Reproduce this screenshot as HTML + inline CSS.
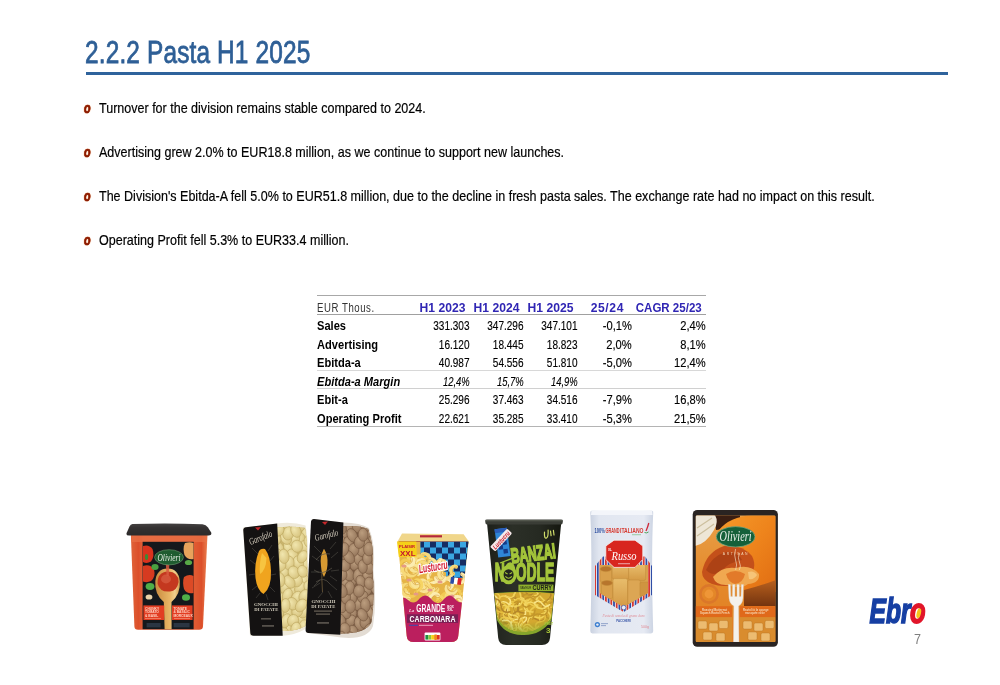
<!DOCTYPE html>
<html><head><meta charset="utf-8">
<style>
html,body{margin:0;padding:0;background:#fff;}
body{width:1000px;height:685px;position:relative;overflow:hidden;font-family:"Liberation Sans",sans-serif;color:#000;}
.abs{position:absolute;white-space:nowrap;}
#title{left:84.5px;top:34.8px;font-size:31px;line-height:36px;color:#2e5f96;transform-origin:0 0;transform:scaleX(0.787);letter-spacing:0.2px;-webkit-text-stroke:0.8px #2e5f96;}
#rule{left:86px;top:72px;width:862px;height:3px;background:#2f639c;}
.b{left:84px;font-size:15px;line-height:18px;}
.b i{font-family:"Liberation Sans",sans-serif;font-weight:bold;font-style:italic;color:#8a1a04;font-size:14.5px;line-height:18px;text-shadow:0 0 1.2px #f08a3a,0 0 1.2px #f08a3a;position:absolute;left:0;top:0;transform-origin:0 0;transform:scaleX(0.74);-webkit-text-stroke:0.7px #8a1a04}
.b span{position:absolute;left:15px;top:0;transform-origin:0 0;transform:scaleX(0.835);-webkit-text-stroke:0.2px #000;}
#tbl{left:317px;top:295px;width:389px;height:133px;font-size:12px;}
#tbl .ln{position:absolute;left:0;width:389px;height:1px;background:#b0b0b0;}
#tbl .r{position:absolute;left:0;width:389px;height:18px;line-height:18px;}
#tbl .r span{position:absolute;top:0;white-space:nowrap;transform:scaleX(0.797);font-size:12.6px;-webkit-text-stroke:0.15px #000;}
#tbl .r .l{left:0;transform-origin:0 0;font-weight:bold;transform:scaleX(0.881);-webkit-text-stroke:0;}
#tbl .n{transform-origin:100% 0;text-align:right;}
#tbl .c1{right:236.5px}#tbl .c2{right:182.5px}#tbl .c3{right:128.5px}#tbl .c4{right:74.5px}#tbl .c5{right:0px}
#tbl .r span.c4,#tbl .r span.c5{transform:scaleX(0.885);}
#tbl .it span.n{transform:scaleX(0.75);}
#tbl .h span.n{color:#3026b4;font-weight:bold;transform:scaleX(1.01);font-size:12px;-webkit-text-stroke:0;}
#tbl .it span{font-style:italic;}

</style></head><body>
<div id="title" class="abs">2.2.2 Pasta H1 2025</div>
<div id="rule" class="abs"></div>
<div class="abs b" style="top:99px"><i>o</i><span>Turnover for the division remains stable compared to 2024.</span></div>
<div class="abs b" style="top:143px"><i>o</i><span>Advertising grew 2.0% to EUR18.8 million, as we continue to support new launches.</span></div>
<div class="abs b" style="top:187px"><i>o</i><span>The Division's Ebitda-A fell 5.0% to EUR51.8 million, due to the decline in fresh pasta sales. The exchange rate had no impact on this result.</span></div>
<div class="abs b" style="top:231px"><i>o</i><span>Operating Profit fell 5.3% to EUR33.4 million.</span></div>
<div id="tbl" class="abs">
<div class="ln" style="top:0;background:#a8a8a8"></div>
<div class="ln" style="top:19px;background:#a0a0a0"></div>
<div class="ln" style="top:75px;background:#d8d8d8"></div>
<div class="ln" style="top:93px;background:#d0d0d0"></div>
<div class="ln" style="top:131px;background:#b4b4b4"></div>
<div class="r h" style="top:3.5px"><span class="l" style="color:#333;font-weight:normal;font-size:12px;-webkit-text-stroke:0;letter-spacing:0.7px;transform:scaleX(0.8)">EUR Thous.</span><span class="n c1" style="right:241px">H1 2023</span><span class="n c2" style="right:187px">H1 2024</span><span class="n c3" style="right:133px">H1 2025</span><span class="n c4" style="right:82px;letter-spacing:0.6px">25/24</span><span class="n c5" style="right:4.5px;transform:scaleX(0.96)">CAGR 25/23</span></div>
<div class="r" style="top:22px"><span class="l">Sales</span><span class="n c1">331.303</span><span class="n c2">347.296</span><span class="n c3">347.101</span><span class="n c4">-0,1%</span><span class="n c5">2,4%</span></div>
<div class="r" style="top:40.5px"><span class="l">Advertising</span><span class="n c1">16.120</span><span class="n c2">18.445</span><span class="n c3">18.823</span><span class="n c4">2,0%</span><span class="n c5">8,1%</span></div>
<div class="r" style="top:59px"><span class="l">Ebitda-a</span><span class="n c1">40.987</span><span class="n c2">54.556</span><span class="n c3">51.810</span><span class="n c4">-5,0%</span><span class="n c5">12,4%</span></div>
<div class="r it" style="top:77.5px"><span class="l">Ebitda-a Margin</span><span class="n c1">12,4%</span><span class="n c2">15,7%</span><span class="n c3">14,9%</span></div>
<div class="r" style="top:96px"><span class="l">Ebit-a</span><span class="n c1">25.296</span><span class="n c2">37.463</span><span class="n c3">34.516</span><span class="n c4">-7,9%</span><span class="n c5">16,8%</span></div>
<div class="r" style="top:114.5px"><span class="l">Operating Profit</span><span class="n c1">22.621</span><span class="n c2">35.285</span><span class="n c3">33.410</span><span class="n c4">-5,3%</span><span class="n c5">21,5%</span></div>
</div>
<div id="pn" class="abs" style="left:914px;top:630.5px;font-size:14px;line-height:16px;color:#7f7f7f;transform-origin:0 0;transform:scaleX(0.9)">7</div>
<svg id="logo" class="abs" style="left:860px;top:590px" width="80" height="40" viewBox="860 590 80 40">
<g font-family="'Liberation Sans',sans-serif" font-weight="bold" font-style="italic" font-size="35">
<text x="869.5" y="622.8" fill="#163fa3" stroke="#163fa3" stroke-width="1.6" textLength="41" lengthAdjust="spacingAndGlyphs">Ebr</text>
<text x="910" y="622.8" fill="#e1162a" stroke="#e1162a" stroke-width="1.8" textLength="15.5" lengthAdjust="spacingAndGlyphs">o</text>
</g>
<ellipse cx="918.6" cy="613" rx="2.1" ry="5" fill="#f6c51b" transform="rotate(14 917.6 614)"/>
</svg>
<svg id="prod" class="abs" style="left:0;top:490px;filter:blur(0.45px)" width="1000" height="195" viewBox="0 490 1000 195">
<defs>
<linearGradient id="tubg" x1="0" x2="1"><stop offset="0" stop-color="#e0653a"/><stop offset="0.1" stop-color="#dc4f2a"/><stop offset="0.16" stop-color="#e2603a"/><stop offset="0.84" stop-color="#e05a32"/><stop offset="0.92" stop-color="#dc4f2a"/><stop offset="1" stop-color="#ea8050"/></linearGradient>
<linearGradient id="wood" x1="0" x2="1"><stop offset="0" stop-color="#c98a3e"/><stop offset="0.6" stop-color="#e9b666"/><stop offset="0.8" stop-color="#f1d08e"/><stop offset="1" stop-color="#d39a4a"/></linearGradient>
<linearGradient id="lidg" x1="0" y1="0" x2="0" y2="1"><stop offset="0" stop-color="#454242"/><stop offset="0.35" stop-color="#343131"/><stop offset="1" stop-color="#2c2a2a"/></linearGradient>
</defs>
<g id="p1">
<path d="M130.8 533 L207.6 533 L203 626.5 Q202.8 629.8 199 629.8 L138 629.8 Q134.6 629.8 134.4 626.5 Z" fill="url(#tubg)"/>
<path d="M131.2 535 h76 l-0.4 7 h-75.1z" fill="#e87045" opacity=".75"/>
<path d="M132.5 524 Q168 523 202.5 524.2 Q206 524.6 208 527.5 L211.2 532.6 Q212 535.6 208.5 535.6 L129 535.6 Q125.8 535.6 126.6 533 L129.5 526.5 Q130.5 524.3 132.5 524Z" fill="url(#lidg)"/>
<rect x="142.6" y="541.8" width="51" height="87.4" fill="#15181c"/>
<path d="M143 546 Q149 544 152.5 549 Q155 556 151 561.5 Q147 564 143 562Z" fill="#d9331e"/>
<path d="M143 566 Q150 563.5 154 569.5 Q156 577 151 581 Q147 583 143 581.5Z" fill="#d63a20"/>
<path d="M185 543 Q190 541.5 193.5 543 L193.5 559 Q188 560.5 184.5 555 Q182.5 548 185 543Z" fill="#e8a35c"/>
<path d="M184 577 Q189 573.5 193.5 576 L193.5 593 Q187 594.5 184 589 Q182.3 582 184 577Z" fill="#dc4a26"/>
<ellipse cx="155" cy="567" rx="3.6" ry="3" fill="#4aa040"/><ellipse cx="150" cy="586.5" rx="4.4" ry="3.4" fill="#4fae48"/><ellipse cx="186" cy="597.5" rx="4" ry="3.2" fill="#4fae48"/><ellipse cx="188.5" cy="562.5" rx="3.6" ry="2.6" fill="#58a846"/><ellipse cx="146.5" cy="557" rx="1.6" ry="3" fill="#3d8a36"/>
<ellipse cx="149" cy="597" rx="3.4" ry="2.6" fill="#e9d2a8"/>
<path d="M163.8 602 Q154.2 594 155.3 581 Q156.8 568.5 167.5 568.5 Q178.5 568.5 179.8 581 Q180.8 594 171.5 602 L171.6 629.2 L164.6 629.2Z" fill="url(#wood)"/>
<path d="M157.6 584 Q157 572 168 571.5 Q178.6 572 178.6 582 Q177 591 170 591.5 Q160 592.5 157.6 584Z" fill="#c4381f"/>
<ellipse cx="166" cy="579" rx="5" ry="4.4" fill="#d65a3e" opacity=".8"/>
<path d="M165.5 560 L169.5 560 L168.8 576 L166.6 576Z" fill="#d85a40" opacity=".85"/>
<ellipse cx="169" cy="557.3" rx="14.4" ry="7.6" fill="#1f5c30" stroke="#6d9a6e" stroke-width=".6"/>
<text x="169" y="560.6" font-family="'Liberation Serif',serif" font-style="italic" font-size="10.5" fill="#e6efe4" text-anchor="middle" textLength="23" lengthAdjust="spacingAndGlyphs">Olivieri</text>
<rect x="143.4" y="605.4" width="20.8" height="14.6" fill="#e23d22"/><rect x="172" y="605.4" width="20.6" height="14.6" fill="#e23d22"/>
<g font-family="'Liberation Sans',sans-serif" font-weight="bold" font-size="3.3" fill="#ffd2c2"><text x="145" y="609.6">CHUNKY</text><text x="145" y="613.2">TOMATO</text><text x="145" y="616.8">&amp; BASIL</text><text x="173.4" y="609.6">TOMATE</text><text x="173.4" y="613.2">&amp; BASILIC</text><text x="173.4" y="616.8">MORCEAUX</text></g>
<rect x="145" y="618.2" width="16" height=".8" fill="#f08a70"/><rect x="174" y="618.2" width="16" height=".8" fill="#f08a70"/>
<rect x="146.6" y="623" width="14" height="4.4" fill="#2b3542"/><rect x="173.6" y="623" width="16" height="4.4" fill="#2b3542"/>
</g>

<defs>
<clipPath id="g1c"><path d="M276.5 527.5 Q292 526 305 528 Q307.5 540 307 560 Q308.5 600 305.5 626 Q296 631.5 282 630.8 Z"/></clipPath>
<clipPath id="g2c"><path d="M343 526.5 Q358 524.5 368 529 Q374.5 545 372.5 570 Q375 600 371.5 622 Q366 634 340 633.5 Z"/></clipPath>
<radialGradient id="gn1" cx=".4" cy=".35" r=".7"><stop offset="0" stop-color="#f1e6ae"/><stop offset="1" stop-color="#d6c27c"/></radialGradient>
<radialGradient id="gn2" cx=".4" cy=".35" r=".7"><stop offset="0" stop-color="#bb9d7e"/><stop offset="1" stop-color="#94755a"/></radialGradient>
</defs>
<g id="p2">
<path d="M243 527.5 L277 523.5 Q293 521.5 305.5 525.5 Q308.5 540 308 560 Q309.5 600 305.5 629 Q295 635 283 635.8 L250 635.8 Z" fill="#efeadb"/>
<g clip-path="url(#g1c)"><rect x="270" y="520" width="45" height="120" fill="#c9b46c"/>
<ellipse cx="292.7" cy="588.7" rx="5.6" ry="6.5" fill="url(#gn1)" stroke="#bfa962" stroke-width=".6" transform="rotate(-20 292.7 588.7)"/>
<ellipse cx="279.0" cy="548.3" rx="4.8" ry="6.3" fill="url(#gn1)" stroke="#bfa962" stroke-width=".6" transform="rotate(-21 279.0 548.3)"/>
<ellipse cx="283.1" cy="572.7" rx="5.2" ry="7.3" fill="url(#gn1)" stroke="#bfa962" stroke-width=".6" transform="rotate(24 283.1 572.7)"/>
<ellipse cx="276.5" cy="555.7" rx="5.1" ry="6.9" fill="url(#gn1)" stroke="#bfa962" stroke-width=".6" transform="rotate(21 276.5 555.7)"/>
<ellipse cx="278.7" cy="597.1" rx="4.7" ry="6.9" fill="url(#gn1)" stroke="#bfa962" stroke-width=".6" transform="rotate(29 278.7 597.1)"/>
<ellipse cx="276.4" cy="590.0" rx="5.4" ry="7.1" fill="url(#gn1)" stroke="#bfa962" stroke-width=".6" transform="rotate(-2 276.4 590.0)"/>
<ellipse cx="293.1" cy="523.5" rx="4.8" ry="7.1" fill="url(#gn1)" stroke="#bfa962" stroke-width=".6" transform="rotate(-12 293.1 523.5)"/>
<ellipse cx="311.2" cy="621.1" rx="5.4" ry="7.4" fill="url(#gn1)" stroke="#bfa962" stroke-width=".6" transform="rotate(-7 311.2 621.1)"/>
<ellipse cx="308.6" cy="523.7" rx="5.0" ry="7.3" fill="url(#gn1)" stroke="#bfa962" stroke-width=".6" transform="rotate(16 308.6 523.7)"/>
<ellipse cx="309.2" cy="556.3" rx="4.8" ry="6.2" fill="url(#gn1)" stroke="#bfa962" stroke-width=".6" transform="rotate(-24 309.2 556.3)"/>
<ellipse cx="275.5" cy="522.6" rx="5.5" ry="7.1" fill="url(#gn1)" stroke="#bfa962" stroke-width=".6" transform="rotate(-25 275.5 522.6)"/>
<ellipse cx="275.1" cy="634.6" rx="5.4" ry="7.4" fill="url(#gn1)" stroke="#bfa962" stroke-width=".6" transform="rotate(11 275.1 634.6)"/>
<ellipse cx="288.9" cy="547.5" rx="5.0" ry="6.8" fill="url(#gn1)" stroke="#bfa962" stroke-width=".6" transform="rotate(-26 288.9 547.5)"/>
<ellipse cx="305.9" cy="533.8" rx="4.6" ry="7.4" fill="url(#gn1)" stroke="#bfa962" stroke-width=".6" transform="rotate(10 305.9 533.8)"/>
<ellipse cx="300.2" cy="524.0" rx="5.1" ry="7.3" fill="url(#gn1)" stroke="#bfa962" stroke-width=".6" transform="rotate(-5 300.2 524.0)"/>
<ellipse cx="275.0" cy="572.0" rx="5.5" ry="7.2" fill="url(#gn1)" stroke="#bfa962" stroke-width=".6" transform="rotate(-20 275.0 572.0)"/>
<ellipse cx="300.4" cy="538.5" rx="4.9" ry="6.4" fill="url(#gn1)" stroke="#bfa962" stroke-width=".6" transform="rotate(-18 300.4 538.5)"/>
<ellipse cx="311.4" cy="602.6" rx="5.2" ry="6.4" fill="url(#gn1)" stroke="#bfa962" stroke-width=".6" transform="rotate(-6 311.4 602.6)"/>
<ellipse cx="287.7" cy="611.9" rx="4.7" ry="7.3" fill="url(#gn1)" stroke="#bfa962" stroke-width=".6" transform="rotate(-10 287.7 611.9)"/>
<ellipse cx="285.5" cy="587.1" rx="5.1" ry="6.8" fill="url(#gn1)" stroke="#bfa962" stroke-width=".6" transform="rotate(28 285.5 587.1)"/>
<ellipse cx="305.3" cy="565.0" rx="5.0" ry="7.3" fill="url(#gn1)" stroke="#bfa962" stroke-width=".6" transform="rotate(0 305.3 565.0)"/>
<ellipse cx="292.9" cy="555.2" rx="5.1" ry="6.7" fill="url(#gn1)" stroke="#bfa962" stroke-width=".6" transform="rotate(-34 292.9 555.2)"/>
<ellipse cx="276.1" cy="605.5" rx="5.0" ry="6.3" fill="url(#gn1)" stroke="#bfa962" stroke-width=".6" transform="rotate(-35 276.1 605.5)"/>
<ellipse cx="291.5" cy="634.6" rx="5.4" ry="6.2" fill="url(#gn1)" stroke="#bfa962" stroke-width=".6" transform="rotate(-2 291.5 634.6)"/>
<ellipse cx="298.4" cy="562.5" rx="5.3" ry="6.8" fill="url(#gn1)" stroke="#bfa962" stroke-width=".6" transform="rotate(-12 298.4 562.5)"/>
<ellipse cx="304.2" cy="546.8" rx="5.1" ry="6.8" fill="url(#gn1)" stroke="#bfa962" stroke-width=".6" transform="rotate(20 304.2 546.8)"/>
<ellipse cx="288.2" cy="627.6" rx="4.7" ry="6.8" fill="url(#gn1)" stroke="#bfa962" stroke-width=".6" transform="rotate(-18 288.2 627.6)"/>
<ellipse cx="289.2" cy="563.2" rx="4.9" ry="7.1" fill="url(#gn1)" stroke="#bfa962" stroke-width=".6" transform="rotate(1 289.2 563.2)"/>
<ellipse cx="294.1" cy="539.2" rx="5.2" ry="7.1" fill="url(#gn1)" stroke="#bfa962" stroke-width=".6" transform="rotate(29 294.1 539.2)"/>
<ellipse cx="304.2" cy="580.8" rx="5.0" ry="6.9" fill="url(#gn1)" stroke="#bfa962" stroke-width=".6" transform="rotate(0 304.2 580.8)"/>
<ellipse cx="302.0" cy="618.2" rx="5.1" ry="7.0" fill="url(#gn1)" stroke="#bfa962" stroke-width=".6" transform="rotate(-3 302.0 618.2)"/>
<ellipse cx="300.1" cy="587.8" rx="5.1" ry="6.7" fill="url(#gn1)" stroke="#bfa962" stroke-width=".6" transform="rotate(31 300.1 587.8)"/>
<ellipse cx="308.6" cy="637.5" rx="5.3" ry="7.2" fill="url(#gn1)" stroke="#bfa962" stroke-width=".6" transform="rotate(31 308.6 637.5)"/>
<ellipse cx="304.0" cy="611.7" rx="4.9" ry="6.8" fill="url(#gn1)" stroke="#bfa962" stroke-width=".6" transform="rotate(31 304.0 611.7)"/>
<ellipse cx="281.1" cy="629.2" rx="5.4" ry="6.2" fill="url(#gn1)" stroke="#bfa962" stroke-width=".6" transform="rotate(-26 281.1 629.2)"/>
<ellipse cx="309.0" cy="586.5" rx="5.0" ry="6.1" fill="url(#gn1)" stroke="#bfa962" stroke-width=".6" transform="rotate(-18 309.0 586.5)"/>
<ellipse cx="287.4" cy="595.0" rx="4.7" ry="6.9" fill="url(#gn1)" stroke="#bfa962" stroke-width=".6" transform="rotate(20 287.4 595.0)"/>
<ellipse cx="296.9" cy="580.7" rx="5.5" ry="6.2" fill="url(#gn1)" stroke="#bfa962" stroke-width=".6" transform="rotate(15 296.9 580.7)"/>
<ellipse cx="297.3" cy="611.1" rx="5.3" ry="6.2" fill="url(#gn1)" stroke="#bfa962" stroke-width=".6" transform="rotate(27 297.3 611.1)"/>
<ellipse cx="280.1" cy="565.5" rx="5.6" ry="6.3" fill="url(#gn1)" stroke="#bfa962" stroke-width=".6" transform="rotate(32 280.1 565.5)"/>
<ellipse cx="296.7" cy="597.5" rx="5.0" ry="6.7" fill="url(#gn1)" stroke="#bfa962" stroke-width=".6" transform="rotate(34 296.7 597.5)"/>
<ellipse cx="309.4" cy="541.3" rx="5.4" ry="6.2" fill="url(#gn1)" stroke="#bfa962" stroke-width=".6" transform="rotate(-5 309.4 541.3)"/>
<ellipse cx="285.0" cy="522.3" rx="5.1" ry="6.5" fill="url(#gn1)" stroke="#bfa962" stroke-width=".6" transform="rotate(-21 285.0 522.3)"/>
<ellipse cx="289.5" cy="581.8" rx="4.9" ry="7.0" fill="url(#gn1)" stroke="#bfa962" stroke-width=".6" transform="rotate(-34 289.5 581.8)"/>
<ellipse cx="285.9" cy="538.2" rx="5.2" ry="6.6" fill="url(#gn1)" stroke="#bfa962" stroke-width=".6" transform="rotate(-34 285.9 538.2)"/>
<ellipse cx="284.0" cy="634.2" rx="4.9" ry="6.9" fill="url(#gn1)" stroke="#bfa962" stroke-width=".6" transform="rotate(1 284.0 634.2)"/>
<ellipse cx="285.9" cy="620.8" rx="4.7" ry="7.4" fill="url(#gn1)" stroke="#bfa962" stroke-width=".6" transform="rotate(20 285.9 620.8)"/>
<ellipse cx="297.1" cy="546.3" rx="5.6" ry="6.1" fill="url(#gn1)" stroke="#bfa962" stroke-width=".6" transform="rotate(-16 297.1 546.3)"/>
<ellipse cx="279.0" cy="610.9" rx="4.6" ry="7.1" fill="url(#gn1)" stroke="#bfa962" stroke-width=".6" transform="rotate(-16 279.0 610.9)"/>
<ellipse cx="302.4" cy="556.8" rx="4.7" ry="6.6" fill="url(#gn1)" stroke="#bfa962" stroke-width=".6" transform="rotate(29 302.4 556.8)"/>
<ellipse cx="292.3" cy="603.7" rx="5.4" ry="6.4" fill="url(#gn1)" stroke="#bfa962" stroke-width=".6" transform="rotate(-25 292.3 603.7)"/>
<ellipse cx="288.3" cy="533.3" rx="5.5" ry="6.8" fill="url(#gn1)" stroke="#bfa962" stroke-width=".6" transform="rotate(14 288.3 533.3)"/>
<ellipse cx="276.2" cy="539.6" rx="4.7" ry="6.1" fill="url(#gn1)" stroke="#bfa962" stroke-width=".6" transform="rotate(13 276.2 539.6)"/>
<ellipse cx="278.7" cy="530.4" rx="5.0" ry="6.1" fill="url(#gn1)" stroke="#bfa962" stroke-width=".6" transform="rotate(31 278.7 530.4)"/>
<ellipse cx="300.3" cy="635.5" rx="5.2" ry="7.1" fill="url(#gn1)" stroke="#bfa962" stroke-width=".6" transform="rotate(-29 300.3 635.5)"/>
<ellipse cx="293.0" cy="620.5" rx="5.5" ry="6.1" fill="url(#gn1)" stroke="#bfa962" stroke-width=".6" transform="rotate(25 293.0 620.5)"/>
<ellipse cx="304.2" cy="626.3" rx="5.1" ry="6.5" fill="url(#gn1)" stroke="#bfa962" stroke-width=".6" transform="rotate(4 304.2 626.3)"/>
<ellipse cx="293.8" cy="572.3" rx="5.5" ry="6.4" fill="url(#gn1)" stroke="#bfa962" stroke-width=".6" transform="rotate(-26 293.8 572.3)"/>
<ellipse cx="310.6" cy="572.4" rx="5.1" ry="6.3" fill="url(#gn1)" stroke="#bfa962" stroke-width=".6" transform="rotate(-27 310.6 572.4)"/>
<ellipse cx="275.6" cy="620.3" rx="4.8" ry="6.1" fill="url(#gn1)" stroke="#bfa962" stroke-width=".6" transform="rotate(-21 275.6 620.3)"/>
<ellipse cx="295.8" cy="628.5" rx="4.9" ry="6.4" fill="url(#gn1)" stroke="#bfa962" stroke-width=".6" transform="rotate(18 295.8 628.5)"/>
<ellipse cx="295.9" cy="530.9" rx="4.9" ry="6.7" fill="url(#gn1)" stroke="#bfa962" stroke-width=".6" transform="rotate(-23 295.9 530.9)"/>
<ellipse cx="302.6" cy="571.3" rx="4.9" ry="6.0" fill="url(#gn1)" stroke="#bfa962" stroke-width=".6" transform="rotate(-17 302.6 571.3)"/>
<ellipse cx="285.5" cy="605.5" rx="4.6" ry="7.0" fill="url(#gn1)" stroke="#bfa962" stroke-width=".6" transform="rotate(4 285.5 605.5)"/>
<ellipse cx="304.2" cy="595.8" rx="4.8" ry="6.7" fill="url(#gn1)" stroke="#bfa962" stroke-width=".6" transform="rotate(30 304.2 595.8)"/>
<ellipse cx="280.2" cy="579.8" rx="4.7" ry="7.1" fill="url(#gn1)" stroke="#bfa962" stroke-width=".6" transform="rotate(-5 280.2 579.8)"/>
<ellipse cx="283.9" cy="556.3" rx="5.1" ry="7.2" fill="url(#gn1)" stroke="#bfa962" stroke-width=".6" transform="rotate(-7 283.9 556.3)"/>
<ellipse cx="301.1" cy="605.5" rx="5.1" ry="7.0" fill="url(#gn1)" stroke="#bfa962" stroke-width=".6" transform="rotate(34 301.1 605.5)"/>
</g>
<path d="M246 527.2 Q243 527.6 243.3 530.5 L250.3 633 Q250.5 635.8 253.5 635.8 L282.7 635.8 L277.2 523.6 Z" fill="#141212"/>
<path d="M259 551 Q254 563 255.5 578 Q257 590 263.5 594 Q271.5 588 271 571 Q270.5 556 265 549 Q261 548 259 551Z" fill="#f0a41e"/>
<path d="M262 553 Q259 563 260 574 Q266 570 266.5 558 Z" fill="#f7c440"/>
<g stroke="#8a867c" stroke-width=".5" opacity=".55" fill="none"><path d="M250 560 l5 4 M249 575 l6 -1 M252 590 l5 -4 M274 556 l-4 5 M276 574 l-5 1 M275 592 l-5 -5 M256 598 l4 -5 M268 600 l-2 -6 M252 548 l6 6 M272 545 l-4 6"/></g>
<text transform="translate(250.5 545) rotate(-22)" font-family="'Liberation Serif',serif" font-style="italic" font-size="9.5" fill="#d8d0c0" textLength="24" lengthAdjust="spacingAndGlyphs">Garofalo</text>
<path d="M255 527.5 l3 3 l3 -3.6z" fill="#c4262a"/>
<g font-family="'Liberation Serif',serif" font-weight="bold" font-size="4.6" fill="#cfc9ba"><text x="254" y="605.5" textLength="24" lengthAdjust="spacingAndGlyphs">GNOCCHI</text><text x="254.3" y="610.8" textLength="24" lengthAdjust="spacingAndGlyphs">DI PATATE</text></g>
<rect x="261" y="618" width="10" height="1.6" fill="#55504a"/><rect x="262" y="625" width="12" height="1.8" fill="#55504a"/>
<path d="M312 519 L343.5 522.4 Q360 522.5 369 528 Q376 545 373.5 570 Q377 600 373 626 Q368 640 341 637.5 L306 632.8 Z" fill="#e3dcd3"/>
<g clip-path="url(#g2c)"><rect x="338" y="520" width="42" height="122" fill="#7d5f48"/>
<ellipse cx="369.8" cy="533.0" rx="4.9" ry="7.0" fill="url(#gn2)" stroke="#75573f" stroke-width=".6" transform="rotate(11 369.8 533.0)"/>
<ellipse cx="380.2" cy="566.5" rx="5.0" ry="6.3" fill="url(#gn2)" stroke="#75573f" stroke-width=".6" transform="rotate(-1 380.2 566.5)"/>
<ellipse cx="377.8" cy="549.6" rx="5.3" ry="6.2" fill="url(#gn2)" stroke="#75573f" stroke-width=".6" transform="rotate(10 377.8 549.6)"/>
<ellipse cx="352.7" cy="580.1" rx="4.7" ry="6.7" fill="url(#gn2)" stroke="#75573f" stroke-width=".6" transform="rotate(22 352.7 580.1)"/>
<ellipse cx="344.3" cy="532.7" rx="5.2" ry="6.6" fill="url(#gn2)" stroke="#75573f" stroke-width=".6" transform="rotate(-12 344.3 532.7)"/>
<ellipse cx="379.2" cy="582.5" rx="5.4" ry="6.6" fill="url(#gn2)" stroke="#75573f" stroke-width=".6" transform="rotate(3 379.2 582.5)"/>
<ellipse cx="352.2" cy="613.1" rx="4.8" ry="6.2" fill="url(#gn2)" stroke="#75573f" stroke-width=".6" transform="rotate(4 352.2 613.1)"/>
<ellipse cx="358.4" cy="604.3" rx="4.9" ry="6.5" fill="url(#gn2)" stroke="#75573f" stroke-width=".6" transform="rotate(22 358.4 604.3)"/>
<ellipse cx="355.0" cy="564.6" rx="4.8" ry="6.0" fill="url(#gn2)" stroke="#75573f" stroke-width=".6" transform="rotate(26 355.0 564.6)"/>
<ellipse cx="371.0" cy="613.2" rx="5.0" ry="7.0" fill="url(#gn2)" stroke="#75573f" stroke-width=".6" transform="rotate(-20 371.0 613.2)"/>
<ellipse cx="352.2" cy="597.1" rx="4.9" ry="7.1" fill="url(#gn2)" stroke="#75573f" stroke-width=".6" transform="rotate(-0 352.2 597.1)"/>
<ellipse cx="340.0" cy="541.8" rx="5.2" ry="6.5" fill="url(#gn2)" stroke="#75573f" stroke-width=".6" transform="rotate(13 340.0 541.8)"/>
<ellipse cx="357.2" cy="639.6" rx="5.1" ry="7.1" fill="url(#gn2)" stroke="#75573f" stroke-width=".6" transform="rotate(24 357.2 639.6)"/>
<ellipse cx="358.3" cy="558.1" rx="4.7" ry="7.3" fill="url(#gn2)" stroke="#75573f" stroke-width=".6" transform="rotate(-8 358.3 558.1)"/>
<ellipse cx="375.7" cy="605.2" rx="5.2" ry="6.6" fill="url(#gn2)" stroke="#75573f" stroke-width=".6" transform="rotate(-13 375.7 605.2)"/>
<ellipse cx="374.4" cy="541.4" rx="5.4" ry="7.4" fill="url(#gn2)" stroke="#75573f" stroke-width=".6" transform="rotate(-26 374.4 541.4)"/>
<ellipse cx="375.3" cy="575.6" rx="5.0" ry="7.1" fill="url(#gn2)" stroke="#75573f" stroke-width=".6" transform="rotate(21 375.3 575.6)"/>
<ellipse cx="350.1" cy="526.5" rx="5.6" ry="6.7" fill="url(#gn2)" stroke="#75573f" stroke-width=".6" transform="rotate(-30 350.1 526.5)"/>
<ellipse cx="357.7" cy="525.4" rx="5.5" ry="7.3" fill="url(#gn2)" stroke="#75573f" stroke-width=".6" transform="rotate(2 357.7 525.4)"/>
<ellipse cx="361.1" cy="630.3" rx="5.1" ry="6.6" fill="url(#gn2)" stroke="#75573f" stroke-width=".6" transform="rotate(20 361.1 630.3)"/>
<ellipse cx="350.7" cy="620.8" rx="4.8" ry="6.2" fill="url(#gn2)" stroke="#75573f" stroke-width=".6" transform="rotate(33 350.7 620.8)"/>
<ellipse cx="345.5" cy="582.8" rx="4.7" ry="7.2" fill="url(#gn2)" stroke="#75573f" stroke-width=".6" transform="rotate(14 345.5 582.8)"/>
<ellipse cx="348.4" cy="574.1" rx="5.4" ry="7.3" fill="url(#gn2)" stroke="#75573f" stroke-width=".6" transform="rotate(-29 348.4 574.1)"/>
<ellipse cx="367.4" cy="575.3" rx="5.4" ry="6.0" fill="url(#gn2)" stroke="#75573f" stroke-width=".6" transform="rotate(-26 367.4 575.3)"/>
<ellipse cx="341.7" cy="575.2" rx="5.2" ry="6.1" fill="url(#gn2)" stroke="#75573f" stroke-width=".6" transform="rotate(15 341.7 575.2)"/>
<ellipse cx="369.1" cy="567.3" rx="5.6" ry="6.9" fill="url(#gn2)" stroke="#75573f" stroke-width=".6" transform="rotate(2 369.1 567.3)"/>
<ellipse cx="345.2" cy="612.0" rx="5.0" ry="7.1" fill="url(#gn2)" stroke="#75573f" stroke-width=".6" transform="rotate(-28 345.2 612.0)"/>
<ellipse cx="365.7" cy="543.9" rx="4.9" ry="7.3" fill="url(#gn2)" stroke="#75573f" stroke-width=".6" transform="rotate(-22 365.7 543.9)"/>
<ellipse cx="379.0" cy="597.5" rx="4.9" ry="7.1" fill="url(#gn2)" stroke="#75573f" stroke-width=".6" transform="rotate(-35 379.0 597.5)"/>
<ellipse cx="348.8" cy="543.8" rx="5.1" ry="7.4" fill="url(#gn2)" stroke="#75573f" stroke-width=".6" transform="rotate(-15 348.8 543.8)"/>
<ellipse cx="359.4" cy="623.7" rx="4.9" ry="7.2" fill="url(#gn2)" stroke="#75573f" stroke-width=".6" transform="rotate(-18 359.4 623.7)"/>
<ellipse cx="373.5" cy="638.0" rx="5.1" ry="6.8" fill="url(#gn2)" stroke="#75573f" stroke-width=".6" transform="rotate(-33 373.5 638.0)"/>
<ellipse cx="339.6" cy="556.1" rx="5.0" ry="6.9" fill="url(#gn2)" stroke="#75573f" stroke-width=".6" transform="rotate(-31 339.6 556.1)"/>
<ellipse cx="358.0" cy="575.3" rx="4.8" ry="7.2" fill="url(#gn2)" stroke="#75573f" stroke-width=".6" transform="rotate(10 358.0 575.3)"/>
<ellipse cx="380.4" cy="628.5" rx="4.7" ry="6.3" fill="url(#gn2)" stroke="#75573f" stroke-width=".6" transform="rotate(-5 380.4 628.5)"/>
<ellipse cx="365.1" cy="621.8" rx="5.0" ry="6.7" fill="url(#gn2)" stroke="#75573f" stroke-width=".6" transform="rotate(14 365.1 621.8)"/>
<ellipse cx="352.6" cy="631.8" rx="5.3" ry="6.5" fill="url(#gn2)" stroke="#75573f" stroke-width=".6" transform="rotate(-7 352.6 631.8)"/>
<ellipse cx="378.4" cy="533.8" rx="4.6" ry="6.4" fill="url(#gn2)" stroke="#75573f" stroke-width=".6" transform="rotate(24 378.4 533.8)"/>
<ellipse cx="340.9" cy="620.5" rx="4.7" ry="6.7" fill="url(#gn2)" stroke="#75573f" stroke-width=".6" transform="rotate(-21 340.9 620.5)"/>
<ellipse cx="344.8" cy="629.1" rx="5.4" ry="6.3" fill="url(#gn2)" stroke="#75573f" stroke-width=".6" transform="rotate(-2 344.8 629.1)"/>
<ellipse cx="352.3" cy="535.4" rx="4.9" ry="7.2" fill="url(#gn2)" stroke="#75573f" stroke-width=".6" transform="rotate(-27 352.3 535.4)"/>
<ellipse cx="366.5" cy="590.1" rx="5.2" ry="6.9" fill="url(#gn2)" stroke="#75573f" stroke-width=".6" transform="rotate(28 366.5 590.1)"/>
<ellipse cx="365.2" cy="524.5" rx="5.1" ry="7.3" fill="url(#gn2)" stroke="#75573f" stroke-width=".6" transform="rotate(-31 365.2 524.5)"/>
<ellipse cx="361.1" cy="550.0" rx="5.2" ry="7.3" fill="url(#gn2)" stroke="#75573f" stroke-width=".6" transform="rotate(-31 361.1 550.0)"/>
<ellipse cx="362.7" cy="566.6" rx="4.6" ry="6.8" fill="url(#gn2)" stroke="#75573f" stroke-width=".6" transform="rotate(-6 362.7 566.6)"/>
<ellipse cx="366.5" cy="636.1" rx="5.3" ry="6.3" fill="url(#gn2)" stroke="#75573f" stroke-width=".6" transform="rotate(-4 366.5 636.1)"/>
<ellipse cx="340.9" cy="606.7" rx="5.3" ry="6.4" fill="url(#gn2)" stroke="#75573f" stroke-width=".6" transform="rotate(-27 340.9 606.7)"/>
<ellipse cx="360.9" cy="581.4" rx="4.7" ry="6.2" fill="url(#gn2)" stroke="#75573f" stroke-width=".6" transform="rotate(-22 360.9 581.4)"/>
<ellipse cx="375.6" cy="559.5" rx="5.3" ry="6.7" fill="url(#gn2)" stroke="#75573f" stroke-width=".6" transform="rotate(-2 375.6 559.5)"/>
<ellipse cx="379.0" cy="613.9" rx="4.9" ry="7.0" fill="url(#gn2)" stroke="#75573f" stroke-width=".6" transform="rotate(24 379.0 613.9)"/>
<ellipse cx="373.7" cy="527.0" rx="5.6" ry="6.6" fill="url(#gn2)" stroke="#75573f" stroke-width=".6" transform="rotate(-27 373.7 527.0)"/>
<ellipse cx="367.3" cy="558.6" rx="4.7" ry="6.1" fill="url(#gn2)" stroke="#75573f" stroke-width=".6" transform="rotate(-6 367.3 558.6)"/>
<ellipse cx="353.4" cy="550.0" rx="5.5" ry="6.8" fill="url(#gn2)" stroke="#75573f" stroke-width=".6" transform="rotate(18 353.4 550.0)"/>
<ellipse cx="350.7" cy="638.8" rx="5.0" ry="7.1" fill="url(#gn2)" stroke="#75573f" stroke-width=".6" transform="rotate(-13 350.7 638.8)"/>
<ellipse cx="362.7" cy="596.8" rx="5.4" ry="6.1" fill="url(#gn2)" stroke="#75573f" stroke-width=".6" transform="rotate(14 362.7 596.8)"/>
<ellipse cx="376.0" cy="623.9" rx="4.8" ry="6.8" fill="url(#gn2)" stroke="#75573f" stroke-width=".6" transform="rotate(-4 376.0 623.9)"/>
<ellipse cx="345.7" cy="597.0" rx="4.9" ry="7.0" fill="url(#gn2)" stroke="#75573f" stroke-width=".6" transform="rotate(-2 345.7 597.0)"/>
<ellipse cx="359.4" cy="542.2" rx="5.2" ry="6.3" fill="url(#gn2)" stroke="#75573f" stroke-width=".6" transform="rotate(9 359.4 542.2)"/>
<ellipse cx="363.1" cy="534.7" rx="5.0" ry="6.5" fill="url(#gn2)" stroke="#75573f" stroke-width=".6" transform="rotate(-3 363.1 534.7)"/>
<ellipse cx="344.7" cy="565.3" rx="5.4" ry="6.1" fill="url(#gn2)" stroke="#75573f" stroke-width=".6" transform="rotate(-21 344.7 565.3)"/>
<ellipse cx="342.0" cy="638.0" rx="4.7" ry="6.8" fill="url(#gn2)" stroke="#75573f" stroke-width=".6" transform="rotate(-10 342.0 638.0)"/>
<ellipse cx="348.9" cy="556.9" rx="4.9" ry="7.3" fill="url(#gn2)" stroke="#75573f" stroke-width=".6" transform="rotate(-32 348.9 556.9)"/>
<ellipse cx="369.4" cy="630.1" rx="5.3" ry="7.0" fill="url(#gn2)" stroke="#75573f" stroke-width=".6" transform="rotate(30 369.4 630.1)"/>
<ellipse cx="349.5" cy="588.0" rx="4.9" ry="7.0" fill="url(#gn2)" stroke="#75573f" stroke-width=".6" transform="rotate(7 349.5 588.0)"/>
<ellipse cx="340.5" cy="527.3" rx="5.4" ry="7.3" fill="url(#gn2)" stroke="#75573f" stroke-width=".6" transform="rotate(-30 340.5 527.3)"/>
<ellipse cx="358.9" cy="591.0" rx="5.4" ry="6.2" fill="url(#gn2)" stroke="#75573f" stroke-width=".6" transform="rotate(15 358.9 591.0)"/>
<ellipse cx="343.5" cy="549.5" rx="5.1" ry="7.1" fill="url(#gn2)" stroke="#75573f" stroke-width=".6" transform="rotate(20 343.5 549.5)"/>
<ellipse cx="341.4" cy="590.7" rx="5.5" ry="7.1" fill="url(#gn2)" stroke="#75573f" stroke-width=".6" transform="rotate(-26 341.4 590.7)"/>
<ellipse cx="371.2" cy="599.9" rx="5.1" ry="6.0" fill="url(#gn2)" stroke="#75573f" stroke-width=".6" transform="rotate(30 371.2 599.9)"/>
<ellipse cx="375.5" cy="588.3" rx="4.9" ry="7.0" fill="url(#gn2)" stroke="#75573f" stroke-width=".6" transform="rotate(-24 375.5 588.3)"/>
<ellipse cx="365.4" cy="605.0" rx="4.8" ry="7.2" fill="url(#gn2)" stroke="#75573f" stroke-width=".6" transform="rotate(-3 365.4 605.0)"/>
<ellipse cx="369.0" cy="549.1" rx="5.4" ry="6.8" fill="url(#gn2)" stroke="#75573f" stroke-width=".6" transform="rotate(1 369.0 549.1)"/>
<ellipse cx="369.3" cy="583.3" rx="5.0" ry="6.2" fill="url(#gn2)" stroke="#75573f" stroke-width=".6" transform="rotate(-6 369.3 583.3)"/>
<ellipse cx="350.3" cy="606.5" rx="5.2" ry="6.7" fill="url(#gn2)" stroke="#75573f" stroke-width=".6" transform="rotate(3 350.3 606.5)"/>
<ellipse cx="362.5" cy="614.8" rx="4.8" ry="6.6" fill="url(#gn2)" stroke="#75573f" stroke-width=".6" transform="rotate(-28 362.5 614.8)"/>
</g>
<path d="M314 519 Q311.3 518.8 311 521.5 L305.6 630 Q305.5 632.7 308.5 633 L340.3 634.8 L343.4 522.4 Z" fill="#151313"/>
<path d="M324 549 Q320.5 565 322.5 592" stroke="#6f5a3a" stroke-width=".8" fill="none"/>
<path d="M324 549 Q319.5 556 321 566 Q322 574 324 577 Q328 570 327.5 560 Q327 553 324 549Z" fill="#d79a32"/>
<path d="M316 560 q6 -8 14 -6 M314 570 q8 6 18 -2 M316 582 q8 -6 14 2" stroke="#5a544a" stroke-width=".7" fill="none"/>
<g stroke="#8a857a" stroke-width=".5" opacity=".6" fill="none"><path d="M312 556 l7 5 M311 572 l8 0 M312 588 l8 -5 M338 552 l-7 6 M339 570 l-8 1 M337 590 l-7 -6 M318 598 l5 -6 M332 598 l-4 -7 M314 546 l7 7 M336 542 l-6 7 M320 580 l-6 6 M330 576 l7 5"/></g>
<text transform="translate(315.5 541) rotate(-14)" font-family="'Liberation Serif',serif" font-style="italic" font-size="9.5" fill="#d8d0c0" textLength="24" lengthAdjust="spacingAndGlyphs">Garofalo</text>
<path d="M322 522 l3 3 l3 -3.4z" fill="#c4262a"/>
<g font-family="'Liberation Serif',serif" font-weight="bold" font-size="4.6" fill="#cfc9ba"><text x="311.5" y="602.5" textLength="24" lengthAdjust="spacingAndGlyphs">GNOCCHI</text><text x="311.3" y="607.8" textLength="24" lengthAdjust="spacingAndGlyphs">DI PATATE</text></g>
<rect x="314" y="610.5" width="18" height="1.2" fill="#6a6358"/><rect x="316" y="613.5" width="14" height="1.2" fill="#6a6358"/><rect x="317" y="622" width="12" height="1.8" fill="#55504a"/>
</g>

<defs>
<clipPath id="lbx"><path d="M397.8 541.5 L468.6 541.5 L458.3 636 Q457.8 642 451 642 L413.5 642 Q407.2 642 406.7 636 Z"/></clipPath>
<clipPath id="lck"><path d="M420.5 541.5 L468.6 541.5 L464.6 578 L446 578 L446 572.5 L420.5 560 Z"/></clipPath>
</defs>
<g id="p3">
<path d="M402 533.6 L463.6 534.2 L469 541.8 L397.4 541.8 Z" fill="#f0d68a"/><path d="M399 541 L468 541 L468.6 543.4 L397.6 543.4Z" fill="#8a2340"/>
<path d="M420 535.2 h22 v2.2 h-22z" fill="#b5283a"/>
<g clip-path="url(#lbx)">
<rect x="395" y="540" width="76" height="104" fill="#e6b446"/>
<g clip-path="url(#lck)"><rect x="418" y="540" width="52" height="40" fill="#3aa6e2"/>
<rect x="418.0" y="541.5" width="6.0" height="6.0" fill="#152c62"/>
<rect x="430.0" y="541.5" width="6.0" height="6.0" fill="#152c62"/>
<rect x="442.0" y="541.5" width="6.0" height="6.0" fill="#152c62"/>
<rect x="454.0" y="541.5" width="6.0" height="6.0" fill="#152c62"/>
<rect x="466.0" y="541.5" width="6.0" height="6.0" fill="#152c62"/>
<rect x="478.0" y="541.5" width="6.0" height="6.0" fill="#152c62"/>
<rect x="424.0" y="547.5" width="6.0" height="6.0" fill="#152c62"/>
<rect x="436.0" y="547.5" width="6.0" height="6.0" fill="#152c62"/>
<rect x="448.0" y="547.5" width="6.0" height="6.0" fill="#152c62"/>
<rect x="460.0" y="547.5" width="6.0" height="6.0" fill="#152c62"/>
<rect x="472.0" y="547.5" width="6.0" height="6.0" fill="#152c62"/>
<rect x="418.0" y="553.5" width="6.0" height="6.0" fill="#152c62"/>
<rect x="430.0" y="553.5" width="6.0" height="6.0" fill="#152c62"/>
<rect x="442.0" y="553.5" width="6.0" height="6.0" fill="#152c62"/>
<rect x="454.0" y="553.5" width="6.0" height="6.0" fill="#152c62"/>
<rect x="466.0" y="553.5" width="6.0" height="6.0" fill="#152c62"/>
<rect x="478.0" y="553.5" width="6.0" height="6.0" fill="#152c62"/>
<rect x="424.0" y="559.5" width="6.0" height="6.0" fill="#152c62"/>
<rect x="436.0" y="559.5" width="6.0" height="6.0" fill="#152c62"/>
<rect x="448.0" y="559.5" width="6.0" height="6.0" fill="#152c62"/>
<rect x="460.0" y="559.5" width="6.0" height="6.0" fill="#152c62"/>
<rect x="472.0" y="559.5" width="6.0" height="6.0" fill="#152c62"/>
<rect x="418.0" y="565.5" width="6.0" height="6.0" fill="#152c62"/>
<rect x="430.0" y="565.5" width="6.0" height="6.0" fill="#152c62"/>
<rect x="442.0" y="565.5" width="6.0" height="6.0" fill="#152c62"/>
<rect x="454.0" y="565.5" width="6.0" height="6.0" fill="#152c62"/>
<rect x="466.0" y="565.5" width="6.0" height="6.0" fill="#152c62"/>
<rect x="478.0" y="565.5" width="6.0" height="6.0" fill="#152c62"/>
<rect x="424.0" y="571.5" width="6.0" height="6.0" fill="#152c62"/>
<rect x="436.0" y="571.5" width="6.0" height="6.0" fill="#152c62"/>
<rect x="448.0" y="571.5" width="6.0" height="6.0" fill="#152c62"/>
<rect x="460.0" y="571.5" width="6.0" height="6.0" fill="#152c62"/>
<rect x="472.0" y="571.5" width="6.0" height="6.0" fill="#152c62"/>
<rect x="418.0" y="577.5" width="6.0" height="6.0" fill="#152c62"/>
<rect x="430.0" y="577.5" width="6.0" height="6.0" fill="#152c62"/>
<rect x="442.0" y="577.5" width="6.0" height="6.0" fill="#152c62"/>
<rect x="454.0" y="577.5" width="6.0" height="6.0" fill="#152c62"/>
<rect x="466.0" y="577.5" width="6.0" height="6.0" fill="#152c62"/>
<rect x="478.0" y="577.5" width="6.0" height="6.0" fill="#152c62"/>
<rect x="424.0" y="583.5" width="6.0" height="6.0" fill="#152c62"/>
<rect x="436.0" y="583.5" width="6.0" height="6.0" fill="#152c62"/>
<rect x="448.0" y="583.5" width="6.0" height="6.0" fill="#152c62"/>
<rect x="460.0" y="583.5" width="6.0" height="6.0" fill="#152c62"/>
<rect x="472.0" y="583.5" width="6.0" height="6.0" fill="#152c62"/>
</g>
<path d="M410.5 583.0 A4.2 4.2 0 1 1 418.9 583.0" fill="none" stroke="#f7da7a" stroke-width="3.8" stroke-linecap="round" transform="rotate(217 414.7 583.0)"/>
<path d="M410.5 583.0 A4.2 4.2 0 1 1 418.9 583.0" fill="none" stroke="#c88a2e" stroke-width=".6" opacity=".7" transform="rotate(217 414.7 583.0) translate(0 1.9)"/>
<path d="M398.4 558.6 A4.9 4.9 0 1 1 408.3 558.6" fill="none" stroke="#f6d464" stroke-width="3.8" stroke-linecap="round" transform="rotate(93 403.3 558.6)"/>
<path d="M398.4 558.6 A4.9 4.9 0 1 1 408.3 558.6" fill="none" stroke="#c88a2e" stroke-width=".6" opacity=".7" transform="rotate(93 403.3 558.6) translate(0 1.9)"/>
<path d="M407.2 591.0 A4.5 4.5 0 1 1 416.1 591.0" fill="none" stroke="#f3ca54" stroke-width="3.8" stroke-linecap="round" transform="rotate(198 411.7 591.0)"/>
<path d="M407.2 591.0 A4.5 4.5 0 1 1 416.1 591.0" fill="none" stroke="#c88a2e" stroke-width=".6" opacity=".7" transform="rotate(198 411.7 591.0) translate(0 1.9)"/>
<path d="M436.6 564.9 A4.6 4.6 0 1 1 445.8 564.9" fill="none" stroke="#f7da7a" stroke-width="3.8" stroke-linecap="round" transform="rotate(312 441.2 564.9)"/>
<path d="M436.6 564.9 A4.6 4.6 0 1 1 445.8 564.9" fill="none" stroke="#c88a2e" stroke-width=".6" opacity=".7" transform="rotate(312 441.2 564.9) translate(0 1.9)"/>
<path d="M419.9 558.7 A4.8 4.8 0 1 1 429.6 558.7" fill="none" stroke="#f7da7a" stroke-width="3.8" stroke-linecap="round" transform="rotate(57 424.7 558.7)"/>
<path d="M419.9 558.7 A4.8 4.8 0 1 1 429.6 558.7" fill="none" stroke="#c88a2e" stroke-width=".6" opacity=".7" transform="rotate(57 424.7 558.7) translate(0 1.9)"/>
<path d="M396.9 593.9 A4.9 4.9 0 1 1 406.7 593.9" fill="none" stroke="#f7da7a" stroke-width="3.8" stroke-linecap="round" transform="rotate(97 401.8 593.9)"/>
<path d="M396.9 593.9 A4.9 4.9 0 1 1 406.7 593.9" fill="none" stroke="#c88a2e" stroke-width=".6" opacity=".7" transform="rotate(97 401.8 593.9) translate(0 1.9)"/>
<path d="M441.7 598.4 A4.7 4.7 0 1 1 451.2 598.4" fill="none" stroke="#f3ca54" stroke-width="3.8" stroke-linecap="round" transform="rotate(332 446.4 598.4)"/>
<path d="M441.7 598.4 A4.7 4.7 0 1 1 451.2 598.4" fill="none" stroke="#c88a2e" stroke-width=".6" opacity=".7" transform="rotate(332 446.4 598.4) translate(0 1.9)"/>
<path d="M441.9 584.5 A5.1 5.1 0 1 1 452.2 584.5" fill="none" stroke="#fcecb0" stroke-width="3.8" stroke-linecap="round" transform="rotate(48 447.1 584.5)"/>
<path d="M441.9 584.5 A5.1 5.1 0 1 1 452.2 584.5" fill="none" stroke="#c88a2e" stroke-width=".6" opacity=".7" transform="rotate(48 447.1 584.5) translate(0 1.9)"/>
<path d="M401.5 564.3 A3.9 3.9 0 1 1 409.4 564.3" fill="none" stroke="#f3ca54" stroke-width="3.8" stroke-linecap="round" transform="rotate(348 405.4 564.3)"/>
<path d="M401.5 564.3 A3.9 3.9 0 1 1 409.4 564.3" fill="none" stroke="#c88a2e" stroke-width=".6" opacity=".7" transform="rotate(348 405.4 564.3) translate(0 1.9)"/>
<path d="M446.1 597.3 A4.3 4.3 0 1 1 454.7 597.3" fill="none" stroke="#f7da7a" stroke-width="3.8" stroke-linecap="round" transform="rotate(300 450.4 597.3)"/>
<path d="M446.1 597.3 A4.3 4.3 0 1 1 454.7 597.3" fill="none" stroke="#c88a2e" stroke-width=".6" opacity=".7" transform="rotate(300 450.4 597.3) translate(0 1.9)"/>
<path d="M417.6 584.9 A4.5 4.5 0 1 1 426.7 584.9" fill="none" stroke="#f9e496" stroke-width="3.8" stroke-linecap="round" transform="rotate(326 422.2 584.9)"/>
<path d="M417.6 584.9 A4.5 4.5 0 1 1 426.7 584.9" fill="none" stroke="#c88a2e" stroke-width=".6" opacity=".7" transform="rotate(326 422.2 584.9) translate(0 1.9)"/>
<path d="M450.8 603.6 A4.7 4.7 0 1 1 460.2 603.6" fill="none" stroke="#fcecb0" stroke-width="3.8" stroke-linecap="round" transform="rotate(59 455.5 603.6)"/>
<path d="M450.8 603.6 A4.7 4.7 0 1 1 460.2 603.6" fill="none" stroke="#c88a2e" stroke-width=".6" opacity=".7" transform="rotate(59 455.5 603.6) translate(0 1.9)"/>
<path d="M458.2 599.6 A4.5 4.5 0 1 1 467.2 599.6" fill="none" stroke="#f6d464" stroke-width="3.8" stroke-linecap="round" transform="rotate(257 462.7 599.6)"/>
<path d="M458.2 599.6 A4.5 4.5 0 1 1 467.2 599.6" fill="none" stroke="#c88a2e" stroke-width=".6" opacity=".7" transform="rotate(257 462.7 599.6) translate(0 1.9)"/>
<path d="M436.7 603.5 A4.0 4.0 0 1 1 444.8 603.5" fill="none" stroke="#f3ca54" stroke-width="3.8" stroke-linecap="round" transform="rotate(45 440.8 603.5)"/>
<path d="M436.7 603.5 A4.0 4.0 0 1 1 444.8 603.5" fill="none" stroke="#c88a2e" stroke-width=".6" opacity=".7" transform="rotate(45 440.8 603.5) translate(0 1.9)"/>
<path d="M451.6 603.5 A3.7 3.7 0 1 1 459.1 603.5" fill="none" stroke="#f3ca54" stroke-width="3.8" stroke-linecap="round" transform="rotate(288 455.4 603.5)"/>
<path d="M451.6 603.5 A3.7 3.7 0 1 1 459.1 603.5" fill="none" stroke="#c88a2e" stroke-width=".6" opacity=".7" transform="rotate(288 455.4 603.5) translate(0 1.9)"/>
<path d="M421.8 563.5 A4.6 4.6 0 1 1 431.0 563.5" fill="none" stroke="#f3ca54" stroke-width="3.8" stroke-linecap="round" transform="rotate(274 426.4 563.5)"/>
<path d="M421.8 563.5 A4.6 4.6 0 1 1 431.0 563.5" fill="none" stroke="#c88a2e" stroke-width=".6" opacity=".7" transform="rotate(274 426.4 563.5) translate(0 1.9)"/>
<path d="M441.2 573.2 A5.2 5.2 0 1 1 451.6 573.2" fill="none" stroke="#f9e496" stroke-width="3.8" stroke-linecap="round" transform="rotate(182 446.4 573.2)"/>
<path d="M441.2 573.2 A5.2 5.2 0 1 1 451.6 573.2" fill="none" stroke="#c88a2e" stroke-width=".6" opacity=".7" transform="rotate(182 446.4 573.2) translate(0 1.9)"/>
<path d="M414.9 561.5 A4.6 4.6 0 1 1 424.0 561.5" fill="none" stroke="#f6d464" stroke-width="3.8" stroke-linecap="round" transform="rotate(11 419.4 561.5)"/>
<path d="M414.9 561.5 A4.6 4.6 0 1 1 424.0 561.5" fill="none" stroke="#c88a2e" stroke-width=".6" opacity=".7" transform="rotate(11 419.4 561.5) translate(0 1.9)"/>
<path d="M440.4 603.1 A4.1 4.1 0 1 1 448.7 603.1" fill="none" stroke="#f6d464" stroke-width="3.8" stroke-linecap="round" transform="rotate(130 444.5 603.1)"/>
<path d="M440.4 603.1 A4.1 4.1 0 1 1 448.7 603.1" fill="none" stroke="#c88a2e" stroke-width=".6" opacity=".7" transform="rotate(130 444.5 603.1) translate(0 1.9)"/>
<path d="M428.8 587.6 A4.6 4.6 0 1 1 437.9 587.6" fill="none" stroke="#f7da7a" stroke-width="3.8" stroke-linecap="round" transform="rotate(201 433.3 587.6)"/>
<path d="M428.8 587.6 A4.6 4.6 0 1 1 437.9 587.6" fill="none" stroke="#c88a2e" stroke-width=".6" opacity=".7" transform="rotate(201 433.3 587.6) translate(0 1.9)"/>
<path d="M459.2 595.3 A4.0 4.0 0 1 1 467.2 595.3" fill="none" stroke="#f6d464" stroke-width="3.8" stroke-linecap="round" transform="rotate(228 463.2 595.3)"/>
<path d="M459.2 595.3 A4.0 4.0 0 1 1 467.2 595.3" fill="none" stroke="#c88a2e" stroke-width=".6" opacity=".7" transform="rotate(228 463.2 595.3) translate(0 1.9)"/>
<path d="M456.8 578.1 A4.0 4.0 0 1 1 464.8 578.1" fill="none" stroke="#fcecb0" stroke-width="3.8" stroke-linecap="round" transform="rotate(109 460.8 578.1)"/>
<path d="M456.8 578.1 A4.0 4.0 0 1 1 464.8 578.1" fill="none" stroke="#c88a2e" stroke-width=".6" opacity=".7" transform="rotate(109 460.8 578.1) translate(0 1.9)"/>
<path d="M395.2 577.1 A4.5 4.5 0 1 1 404.3 577.1" fill="none" stroke="#f7da7a" stroke-width="3.8" stroke-linecap="round" transform="rotate(7 399.8 577.1)"/>
<path d="M395.2 577.1 A4.5 4.5 0 1 1 404.3 577.1" fill="none" stroke="#c88a2e" stroke-width=".6" opacity=".7" transform="rotate(7 399.8 577.1) translate(0 1.9)"/>
<path d="M433.3 564.1 A4.6 4.6 0 1 1 442.5 564.1" fill="none" stroke="#fcecb0" stroke-width="3.8" stroke-linecap="round" transform="rotate(120 437.9 564.1)"/>
<path d="M433.3 564.1 A4.6 4.6 0 1 1 442.5 564.1" fill="none" stroke="#c88a2e" stroke-width=".6" opacity=".7" transform="rotate(120 437.9 564.1) translate(0 1.9)"/>
<path d="M439.1 574.2 A4.7 4.7 0 1 1 448.6 574.2" fill="none" stroke="#f9e496" stroke-width="3.8" stroke-linecap="round" transform="rotate(266 443.8 574.2)"/>
<path d="M439.1 574.2 A4.7 4.7 0 1 1 448.6 574.2" fill="none" stroke="#c88a2e" stroke-width=".6" opacity=".7" transform="rotate(266 443.8 574.2) translate(0 1.9)"/>
<path d="M434.3 601.9 A3.6 3.6 0 1 1 441.5 601.9" fill="none" stroke="#f3ca54" stroke-width="3.8" stroke-linecap="round" transform="rotate(133 437.9 601.9)"/>
<path d="M434.3 601.9 A3.6 3.6 0 1 1 441.5 601.9" fill="none" stroke="#c88a2e" stroke-width=".6" opacity=".7" transform="rotate(133 437.9 601.9) translate(0 1.9)"/>
<path d="M414.8 585.7 A3.9 3.9 0 1 1 422.6 585.7" fill="none" stroke="#fcecb0" stroke-width="3.8" stroke-linecap="round" transform="rotate(67 418.7 585.7)"/>
<path d="M414.8 585.7 A3.9 3.9 0 1 1 422.6 585.7" fill="none" stroke="#c88a2e" stroke-width=".6" opacity=".7" transform="rotate(67 418.7 585.7) translate(0 1.9)"/>
<path d="M450.9 570.2 A3.8 3.8 0 1 1 458.5 570.2" fill="none" stroke="#f7da7a" stroke-width="3.8" stroke-linecap="round" transform="rotate(293 454.7 570.2)"/>
<path d="M450.9 570.2 A3.8 3.8 0 1 1 458.5 570.2" fill="none" stroke="#c88a2e" stroke-width=".6" opacity=".7" transform="rotate(293 454.7 570.2) translate(0 1.9)"/>
<path d="M439.7 564.0 A4.4 4.4 0 1 1 448.5 564.0" fill="none" stroke="#fcecb0" stroke-width="3.8" stroke-linecap="round" transform="rotate(235 444.1 564.0)"/>
<path d="M439.7 564.0 A4.4 4.4 0 1 1 448.5 564.0" fill="none" stroke="#c88a2e" stroke-width=".6" opacity=".7" transform="rotate(235 444.1 564.0) translate(0 1.9)"/>
<path d="M410.5 566.6 A4.3 4.3 0 1 1 419.1 566.6" fill="none" stroke="#f9e496" stroke-width="3.8" stroke-linecap="round" transform="rotate(251 414.8 566.6)"/>
<path d="M410.5 566.6 A4.3 4.3 0 1 1 419.1 566.6" fill="none" stroke="#c88a2e" stroke-width=".6" opacity=".7" transform="rotate(251 414.8 566.6) translate(0 1.9)"/>
<path d="M434.0 601.7 A4.7 4.7 0 1 1 443.3 601.7" fill="none" stroke="#f6d464" stroke-width="3.8" stroke-linecap="round" transform="rotate(81 438.6 601.7)"/>
<path d="M434.0 601.7 A4.7 4.7 0 1 1 443.3 601.7" fill="none" stroke="#c88a2e" stroke-width=".6" opacity=".7" transform="rotate(81 438.6 601.7) translate(0 1.9)"/>
<path d="M400.3 592.1 A3.9 3.9 0 1 1 408.2 592.1" fill="none" stroke="#fcecb0" stroke-width="3.8" stroke-linecap="round" transform="rotate(205 404.3 592.1)"/>
<path d="M400.3 592.1 A3.9 3.9 0 1 1 408.2 592.1" fill="none" stroke="#c88a2e" stroke-width=".6" opacity=".7" transform="rotate(205 404.3 592.1) translate(0 1.9)"/>
<path d="M409.4 563.6 A4.4 4.4 0 1 1 418.3 563.6" fill="none" stroke="#f7da7a" stroke-width="3.8" stroke-linecap="round" transform="rotate(69 413.9 563.6)"/>
<path d="M409.4 563.6 A4.4 4.4 0 1 1 418.3 563.6" fill="none" stroke="#c88a2e" stroke-width=".6" opacity=".7" transform="rotate(69 413.9 563.6) translate(0 1.9)"/>
<path d="M406.2 570.8 A4.9 4.9 0 1 1 416.0 570.8" fill="none" stroke="#f7da7a" stroke-width="3.8" stroke-linecap="round" transform="rotate(231 411.1 570.8)"/>
<path d="M406.2 570.8 A4.9 4.9 0 1 1 416.0 570.8" fill="none" stroke="#c88a2e" stroke-width=".6" opacity=".7" transform="rotate(231 411.1 570.8) translate(0 1.9)"/>
<path d="M417.7 564.0 A4.1 4.1 0 1 1 425.9 564.0" fill="none" stroke="#fcecb0" stroke-width="3.8" stroke-linecap="round" transform="rotate(286 421.8 564.0)"/>
<path d="M417.7 564.0 A4.1 4.1 0 1 1 425.9 564.0" fill="none" stroke="#c88a2e" stroke-width=".6" opacity=".7" transform="rotate(286 421.8 564.0) translate(0 1.9)"/>
<path d="M425.6 587.2 A4.1 4.1 0 1 1 433.7 587.2" fill="none" stroke="#f9e496" stroke-width="3.8" stroke-linecap="round" transform="rotate(205 429.7 587.2)"/>
<path d="M425.6 587.2 A4.1 4.1 0 1 1 433.7 587.2" fill="none" stroke="#c88a2e" stroke-width=".6" opacity=".7" transform="rotate(205 429.7 587.2) translate(0 1.9)"/>
<path d="M456.1 598.5 A5.2 5.2 0 1 1 466.4 598.5" fill="none" stroke="#f6d464" stroke-width="3.8" stroke-linecap="round" transform="rotate(156 461.3 598.5)"/>
<path d="M456.1 598.5 A5.2 5.2 0 1 1 466.4 598.5" fill="none" stroke="#c88a2e" stroke-width=".6" opacity=".7" transform="rotate(156 461.3 598.5) translate(0 1.9)"/>
<path d="M396.3 579.0 A4.8 4.8 0 1 1 405.9 579.0" fill="none" stroke="#fcecb0" stroke-width="3.8" stroke-linecap="round" transform="rotate(269 401.1 579.0)"/>
<path d="M396.3 579.0 A4.8 4.8 0 1 1 405.9 579.0" fill="none" stroke="#c88a2e" stroke-width=".6" opacity=".7" transform="rotate(269 401.1 579.0) translate(0 1.9)"/>
<path d="M429.9 598.9 A5.0 5.0 0 1 1 439.9 598.9" fill="none" stroke="#fcecb0" stroke-width="3.8" stroke-linecap="round" transform="rotate(309 434.9 598.9)"/>
<path d="M429.9 598.9 A5.0 5.0 0 1 1 439.9 598.9" fill="none" stroke="#c88a2e" stroke-width=".6" opacity=".7" transform="rotate(309 434.9 598.9) translate(0 1.9)"/>
<path d="M403.3 569.2 A3.7 3.7 0 1 1 410.6 569.2" fill="none" stroke="#f7da7a" stroke-width="3.8" stroke-linecap="round" transform="rotate(289 406.9 569.2)"/>
<path d="M403.3 569.2 A3.7 3.7 0 1 1 410.6 569.2" fill="none" stroke="#c88a2e" stroke-width=".6" opacity=".7" transform="rotate(289 406.9 569.2) translate(0 1.9)"/>
<path d="M454.9 599.2 A5.0 5.0 0 1 1 465.0 599.2" fill="none" stroke="#f9e496" stroke-width="3.8" stroke-linecap="round" transform="rotate(208 460.0 599.2)"/>
<path d="M454.9 599.2 A5.0 5.0 0 1 1 465.0 599.2" fill="none" stroke="#c88a2e" stroke-width=".6" opacity=".7" transform="rotate(208 460.0 599.2) translate(0 1.9)"/>
<path d="M426.3 563.6 A4.4 4.4 0 1 1 435.2 563.6" fill="none" stroke="#f9e496" stroke-width="3.8" stroke-linecap="round" transform="rotate(86 430.7 563.6)"/>
<path d="M426.3 563.6 A4.4 4.4 0 1 1 435.2 563.6" fill="none" stroke="#c88a2e" stroke-width=".6" opacity=".7" transform="rotate(86 430.7 563.6) translate(0 1.9)"/>
<path d="M428.5 577.0 A5.1 5.1 0 1 1 438.8 577.0" fill="none" stroke="#fcecb0" stroke-width="3.8" stroke-linecap="round" transform="rotate(220 433.6 577.0)"/>
<path d="M428.5 577.0 A5.1 5.1 0 1 1 438.8 577.0" fill="none" stroke="#c88a2e" stroke-width=".6" opacity=".7" transform="rotate(220 433.6 577.0) translate(0 1.9)"/>
<path d="M402.8 602.7 A4.5 4.5 0 1 1 411.7 602.7" fill="none" stroke="#f9e496" stroke-width="3.8" stroke-linecap="round" transform="rotate(292 407.3 602.7)"/>
<path d="M402.8 602.7 A4.5 4.5 0 1 1 411.7 602.7" fill="none" stroke="#c88a2e" stroke-width=".6" opacity=".7" transform="rotate(292 407.3 602.7) translate(0 1.9)"/>
<path d="M417.8 567.1 A4.5 4.5 0 1 1 426.7 567.1" fill="none" stroke="#f6d464" stroke-width="3.8" stroke-linecap="round" transform="rotate(294 422.2 567.1)"/>
<path d="M417.8 567.1 A4.5 4.5 0 1 1 426.7 567.1" fill="none" stroke="#c88a2e" stroke-width=".6" opacity=".7" transform="rotate(294 422.2 567.1) translate(0 1.9)"/>
<path d="M409.8 570.6 A5.0 5.0 0 1 1 419.8 570.6" fill="none" stroke="#f9e496" stroke-width="3.8" stroke-linecap="round" transform="rotate(46 414.8 570.6)"/>
<path d="M409.8 570.6 A5.0 5.0 0 1 1 419.8 570.6" fill="none" stroke="#c88a2e" stroke-width=".6" opacity=".7" transform="rotate(46 414.8 570.6) translate(0 1.9)"/>
<path d="M426.9 584.3 A4.2 4.2 0 1 1 435.4 584.3" fill="none" stroke="#f6d464" stroke-width="3.8" stroke-linecap="round" transform="rotate(272 431.2 584.3)"/>
<path d="M426.9 584.3 A4.2 4.2 0 1 1 435.4 584.3" fill="none" stroke="#c88a2e" stroke-width=".6" opacity=".7" transform="rotate(272 431.2 584.3) translate(0 1.9)"/>
<path d="M412.4 582.3 A4.3 4.3 0 1 1 421.0 582.3" fill="none" stroke="#f9e496" stroke-width="3.8" stroke-linecap="round" transform="rotate(170 416.7 582.3)"/>
<path d="M412.4 582.3 A4.3 4.3 0 1 1 421.0 582.3" fill="none" stroke="#c88a2e" stroke-width=".6" opacity=".7" transform="rotate(170 416.7 582.3) translate(0 1.9)"/>
<path d="M451.9 593.7 A3.7 3.7 0 1 1 459.2 593.7" fill="none" stroke="#f3ca54" stroke-width="3.8" stroke-linecap="round" transform="rotate(18 455.6 593.7)"/>
<path d="M451.9 593.7 A3.7 3.7 0 1 1 459.2 593.7" fill="none" stroke="#c88a2e" stroke-width=".6" opacity=".7" transform="rotate(18 455.6 593.7) translate(0 1.9)"/>
<path d="M459.6 597.3 A3.7 3.7 0 1 1 467.1 597.3" fill="none" stroke="#fcecb0" stroke-width="3.8" stroke-linecap="round" transform="rotate(181 463.3 597.3)"/>
<path d="M459.6 597.3 A3.7 3.7 0 1 1 467.1 597.3" fill="none" stroke="#c88a2e" stroke-width=".6" opacity=".7" transform="rotate(181 463.3 597.3) translate(0 1.9)"/>
<path d="M405.1 561.3 A4.2 4.2 0 1 1 413.6 561.3" fill="none" stroke="#fcecb0" stroke-width="3.8" stroke-linecap="round" transform="rotate(140 409.4 561.3)"/>
<path d="M405.1 561.3 A4.2 4.2 0 1 1 413.6 561.3" fill="none" stroke="#c88a2e" stroke-width=".6" opacity=".7" transform="rotate(140 409.4 561.3) translate(0 1.9)"/>
<path d="M418.7 566.8 A4.1 4.1 0 1 1 426.9 566.8" fill="none" stroke="#f7da7a" stroke-width="3.8" stroke-linecap="round" transform="rotate(45 422.8 566.8)"/>
<path d="M418.7 566.8 A4.1 4.1 0 1 1 426.9 566.8" fill="none" stroke="#c88a2e" stroke-width=".6" opacity=".7" transform="rotate(45 422.8 566.8) translate(0 1.9)"/>
<path d="M394.4 591.3 A4.9 4.9 0 1 1 404.1 591.3" fill="none" stroke="#f9e496" stroke-width="3.8" stroke-linecap="round" transform="rotate(204 399.2 591.3)"/>
<path d="M394.4 591.3 A4.9 4.9 0 1 1 404.1 591.3" fill="none" stroke="#c88a2e" stroke-width=".6" opacity=".7" transform="rotate(204 399.2 591.3) translate(0 1.9)"/>
<path d="M418.8 585.8 A4.9 4.9 0 1 1 428.5 585.8" fill="none" stroke="#f9e496" stroke-width="3.8" stroke-linecap="round" transform="rotate(137 423.6 585.8)"/>
<path d="M418.8 585.8 A4.9 4.9 0 1 1 428.5 585.8" fill="none" stroke="#c88a2e" stroke-width=".6" opacity=".7" transform="rotate(137 423.6 585.8) translate(0 1.9)"/>
<path d="M435.9 577.9 A4.2 4.2 0 1 1 444.3 577.9" fill="none" stroke="#fcecb0" stroke-width="3.8" stroke-linecap="round" transform="rotate(179 440.1 577.9)"/>
<path d="M435.9 577.9 A4.2 4.2 0 1 1 444.3 577.9" fill="none" stroke="#c88a2e" stroke-width=".6" opacity=".7" transform="rotate(179 440.1 577.9) translate(0 1.9)"/>
<path d="M422.4 589.9 A4.3 4.3 0 1 1 431.1 589.9" fill="none" stroke="#f7da7a" stroke-width="3.8" stroke-linecap="round" transform="rotate(88 426.8 589.9)"/>
<path d="M422.4 589.9 A4.3 4.3 0 1 1 431.1 589.9" fill="none" stroke="#c88a2e" stroke-width=".6" opacity=".7" transform="rotate(88 426.8 589.9) translate(0 1.9)"/>
<path d="M411.9 585.1 A4.9 4.9 0 1 1 421.7 585.1" fill="none" stroke="#f6d464" stroke-width="3.8" stroke-linecap="round" transform="rotate(81 416.8 585.1)"/>
<path d="M411.9 585.1 A4.9 4.9 0 1 1 421.7 585.1" fill="none" stroke="#c88a2e" stroke-width=".6" opacity=".7" transform="rotate(81 416.8 585.1) translate(0 1.9)"/>
<path d="M452.9 601.1 A4.2 4.2 0 1 1 461.3 601.1" fill="none" stroke="#fcecb0" stroke-width="3.8" stroke-linecap="round" transform="rotate(323 457.1 601.1)"/>
<path d="M452.9 601.1 A4.2 4.2 0 1 1 461.3 601.1" fill="none" stroke="#c88a2e" stroke-width=".6" opacity=".7" transform="rotate(323 457.1 601.1) translate(0 1.9)"/>
<path d="M401.9 589.8 A5.1 5.1 0 1 1 412.1 589.8" fill="none" stroke="#f7da7a" stroke-width="3.8" stroke-linecap="round" transform="rotate(263 407.0 589.8)"/>
<path d="M401.9 589.8 A5.1 5.1 0 1 1 412.1 589.8" fill="none" stroke="#c88a2e" stroke-width=".6" opacity=".7" transform="rotate(263 407.0 589.8) translate(0 1.9)"/>
<path d="M446.5 588.7 A4.8 4.8 0 1 1 456.1 588.7" fill="none" stroke="#f9e496" stroke-width="3.8" stroke-linecap="round" transform="rotate(203 451.3 588.7)"/>
<path d="M446.5 588.7 A4.8 4.8 0 1 1 456.1 588.7" fill="none" stroke="#c88a2e" stroke-width=".6" opacity=".7" transform="rotate(203 451.3 588.7) translate(0 1.9)"/>
<ellipse cx="409" cy="580" rx="2.6" ry="1.6" fill="#e59a86"/>
<ellipse cx="416" cy="594" rx="2.6" ry="1.6" fill="#e59a86"/>
<ellipse cx="430" cy="590" rx="2.6" ry="1.6" fill="#e59a86"/>
<ellipse cx="452" cy="596" rx="2.6" ry="1.6" fill="#e59a86"/>
<ellipse cx="404" cy="566" rx="2.6" ry="1.6" fill="#e59a86"/>
<ellipse cx="440" cy="582" rx="2.6" ry="1.6" fill="#e59a86"/>
<path d="M395 603 Q401 594 408 600 Q414 606 420 598 Q426 592 432 600 Q438 607 444 599 Q450 592 456 600 Q462 606 470 598 L470 645 L395 645Z" fill="#bb1f5e"/>
<rect x="407" y="614.3" width="51" height="8.6" fill="#7a1f55"/>
<rect x="409" y="624.8" width="9" height="1" fill="#3a4bb0"/><rect x="419" y="624.8" width="14" height="1" fill="#e9a0bf"/>
</g>
<path d="M397 541.5 L416.3 541.5 L416.8 556.5 L398.8 557 Z" fill="#f6d018"/>
<g font-family="'Liberation Sans',sans-serif" font-weight="bold" fill="#c3122f"><text x="399" y="548.3" font-size="4.2" textLength="16" lengthAdjust="spacingAndGlyphs">PLAISIR</text><text x="400" y="555.6" font-size="8" textLength="15.5" lengthAdjust="spacingAndGlyphs">XXL</text></g>
<g transform="rotate(-9 433 566)"><text x="418.5" y="571" font-family="'Liberation Sans',sans-serif" font-weight="bold" font-style="italic" font-size="12" fill="#d3182e" stroke="#fff" stroke-width="2.6" stroke-linejoin="round" paint-order="stroke" textLength="29" lengthAdjust="spacingAndGlyphs">Lustucru</text></g>
<g transform="rotate(8 456 581)"><rect x="450.5" y="577.8" width="3.6" height="6.6" fill="#2a4aa8"/><rect x="454.1" y="577.8" width="3.6" height="6.6" fill="#fff"/><rect x="457.7" y="577.8" width="3.6" height="6.6" fill="#d8232f"/></g>
<g font-family="'Liberation Sans',sans-serif" font-weight="bold" fill="#fff">
<text x="409" y="611.8" font-family="'Liberation Serif',serif" font-style="italic" font-weight="normal" font-size="5">La</text>
<text x="416.3" y="612" font-size="10" textLength="29" lengthAdjust="spacingAndGlyphs">GRANDE</text>
<text x="447.3" y="607.5" font-size="3">BOX</text><text x="447.3" y="611.3" font-size="3">XXL</text>
<text x="409.5" y="621.6" font-size="8.6" textLength="46" lengthAdjust="spacingAndGlyphs">CARBONARA</text></g>
<rect x="424.6" y="632.4" width="15.8" height="8" rx="1" fill="#fff"/>
<rect x="425.4" y="635" width="2.9" height="4.6" fill="#1e8a43"/><rect x="428.3" y="635" width="2.9" height="4.6" fill="#8bc53f"/><rect x="431.2" y="635" width="2.9" height="4.6" fill="#f7d117"/><rect x="434.1" y="634.4" width="3" height="5.6" rx=".8" fill="#ee8a1d"/><rect x="437" y="635" width="2.7" height="4.6" fill="#e0311f"/>
</g>

<defs>
<clipPath id="cupc"><path d="M487 523 L561.2 523 L550 638 Q549.3 645 542 645 L506 645 Q499 645 498.2 638 Z"/></clipPath>
<clipPath id="ndl"><path d="M494.4 593.6 Q524 591 553.9 593.6 L551 618 Q540 632 523 631.5 Q506 632 497.5 618 Z"/></clipPath>
<linearGradient id="cupg" x1="0" x2="1"><stop offset="0" stop-color="#1d201a"/><stop offset=".35" stop-color="#2b2f27"/><stop offset=".7" stop-color="#262a22"/><stop offset="1" stop-color="#15170f"/></linearGradient>
<radialGradient id="grn" cx=".5" cy=".3" r=".75"><stop offset=".6" stop-color="#7c9a28" stop-opacity="0"/><stop offset="1" stop-color="#8fb02c" stop-opacity=".9"/></radialGradient>
</defs>
<g id="p4">
<path d="M487 523 L561.2 523 L550 638 Q549.3 645 542 645 L506 645 Q499 645 498.2 638 Z" fill="url(#cupg)"/>
<path d="M485.2 521 Q485 519.6 487 519.6 L561 519.6 Q563 519.6 562.9 521 L562.6 523.2 Q562.4 524.4 560.5 524.4 L487.6 524.4 Q485.6 524.4 485.5 523.2Z" fill="#3a3d36"/>
<path d="M486 520.2 L562 520.2 L562 521.2 L486 521.2Z" fill="#5c6056"/>
<g clip-path="url(#cupc)">
<path d="M494.2 593 Q524 590.4 554.2 593 L551.6 620 Q541 635.5 523 635 Q505 635.5 496.9 620 Z" fill="#86a52b"/>
<g clip-path="url(#ndl)"><rect x="490" y="588" width="70" height="46" fill="#d4a830"/>
<path d="M526.0 621.4 Q531.4 615.0 536.8 621.4 T547.5 621.4" fill="none" stroke="#b4862a" stroke-width="1.5" stroke-linecap="round" transform="rotate(339 531.4 621.4)"/>
<path d="M527.6 612.7 Q533.1 606.1 538.6 612.7 T549.7 612.7" fill="none" stroke="#ecc94c" stroke-width="1.5" stroke-linecap="round" transform="rotate(279 533.1 612.7)"/>
<path d="M529.6 627.9 Q532.9 623.9 536.3 627.9 T543.0 627.9" fill="none" stroke="#ecc94c" stroke-width="1.5" stroke-linecap="round" transform="rotate(169 532.9 627.9)"/>
<path d="M513.1 595.2 Q516.8 590.7 520.6 595.2 T528.1 595.2" fill="none" stroke="#c3962a" stroke-width="1.5" stroke-linecap="round" transform="rotate(263 516.8 595.2)"/>
<path d="M505.5 628.6 Q510.8 622.2 516.1 628.6 T526.7 628.6" fill="none" stroke="#e8c040" stroke-width="1.5" stroke-linecap="round" transform="rotate(57 510.8 628.6)"/>
<path d="M494.0 616.3 Q498.3 611.1 502.7 616.3 T511.3 616.3" fill="none" stroke="#e8c040" stroke-width="1.5" stroke-linecap="round" transform="rotate(48 498.3 616.3)"/>
<path d="M488.4 622.7 Q494.3 615.7 500.2 622.7 T512.0 622.7" fill="none" stroke="#ecc94c" stroke-width="1.5" stroke-linecap="round" transform="rotate(60 494.3 622.7)"/>
<path d="M506.7 630.4 Q511.4 624.9 516.0 630.4 T525.2 630.4" fill="none" stroke="#ecc94c" stroke-width="1.5" stroke-linecap="round" transform="rotate(244 511.4 630.4)"/>
<path d="M501.3 630.7 Q504.9 626.4 508.5 630.7 T515.7 630.7" fill="none" stroke="#c3962a" stroke-width="1.5" stroke-linecap="round" transform="rotate(347 504.9 630.7)"/>
<path d="M508.4 605.8 Q511.9 601.6 515.4 605.8 T522.4 605.8" fill="none" stroke="#f3d866" stroke-width="1.5" stroke-linecap="round" transform="rotate(52 511.9 605.8)"/>
<path d="M509.2 624.5 Q513.9 618.8 518.7 624.5 T528.2 624.5" fill="none" stroke="#b4862a" stroke-width="1.5" stroke-linecap="round" transform="rotate(215 513.9 624.5)"/>
<path d="M508.8 603.7 Q514.3 597.2 519.7 603.7 T530.6 603.7" fill="none" stroke="#f8e488" stroke-width="1.5" stroke-linecap="round" transform="rotate(173 514.3 603.7)"/>
<path d="M501.6 610.4 Q505.1 606.1 508.6 610.4 T515.7 610.4" fill="none" stroke="#f3d866" stroke-width="1.5" stroke-linecap="round" transform="rotate(92 505.1 610.4)"/>
<path d="M546.7 605.7 Q551.0 600.6 555.2 605.7 T563.6 605.7" fill="none" stroke="#c3962a" stroke-width="1.5" stroke-linecap="round" transform="rotate(198 551.0 605.7)"/>
<path d="M512.9 614.7 Q516.0 611.1 519.0 614.7 T525.1 614.7" fill="none" stroke="#ecc94c" stroke-width="1.5" stroke-linecap="round" transform="rotate(17 516.0 614.7)"/>
<path d="M528.1 630.1 Q531.4 626.1 534.8 630.1 T541.5 630.1" fill="none" stroke="#e8c040" stroke-width="1.5" stroke-linecap="round" transform="rotate(89 531.4 630.1)"/>
<path d="M546.5 605.1 Q550.5 600.2 554.6 605.1 T562.7 605.1" fill="none" stroke="#e8c040" stroke-width="1.5" stroke-linecap="round" transform="rotate(189 550.5 605.1)"/>
<path d="M516.4 615.2 Q521.8 608.8 527.1 615.2 T537.8 615.2" fill="none" stroke="#f8e488" stroke-width="1.5" stroke-linecap="round" transform="rotate(132 521.8 615.2)"/>
<path d="M492.9 629.8 Q496.2 625.8 499.5 629.8 T506.0 629.8" fill="none" stroke="#f0d25a" stroke-width="1.5" stroke-linecap="round" transform="rotate(123 496.2 629.8)"/>
<path d="M511.9 597.1 Q515.8 592.5 519.6 597.1 T527.2 597.1" fill="none" stroke="#f3d866" stroke-width="1.5" stroke-linecap="round" transform="rotate(253 515.8 597.1)"/>
<path d="M509.2 604.0 Q512.7 599.7 516.3 604.0 T523.3 604.0" fill="none" stroke="#ecc94c" stroke-width="1.5" stroke-linecap="round" transform="rotate(28 512.7 604.0)"/>
<path d="M532.8 603.7 Q537.3 598.3 541.7 603.7 T550.6 603.7" fill="none" stroke="#f3d866" stroke-width="1.5" stroke-linecap="round" transform="rotate(259 537.3 603.7)"/>
<path d="M549.0 612.9 Q553.2 607.8 557.4 612.9 T565.9 612.9" fill="none" stroke="#f0d25a" stroke-width="1.5" stroke-linecap="round" transform="rotate(85 553.2 612.9)"/>
<path d="M509.7 601.3 Q514.6 595.3 519.6 601.3 T529.5 601.3" fill="none" stroke="#b4862a" stroke-width="1.5" stroke-linecap="round" transform="rotate(52 514.6 601.3)"/>
<path d="M490.4 611.2 Q496.0 604.6 501.5 611.2 T512.5 611.2" fill="none" stroke="#b4862a" stroke-width="1.5" stroke-linecap="round" transform="rotate(47 496.0 611.2)"/>
<path d="M522.2 596.4 Q527.8 589.6 533.5 596.4 T544.9 596.4" fill="none" stroke="#ecc94c" stroke-width="1.5" stroke-linecap="round" transform="rotate(149 527.8 596.4)"/>
<path d="M514.5 597.1 Q520.1 590.5 525.6 597.1 T536.7 597.1" fill="none" stroke="#c3962a" stroke-width="1.5" stroke-linecap="round" transform="rotate(106 520.1 597.1)"/>
<path d="M545.8 616.4 Q549.3 612.2 552.8 616.4 T559.8 616.4" fill="none" stroke="#c3962a" stroke-width="1.5" stroke-linecap="round" transform="rotate(188 549.3 616.4)"/>
<path d="M531.5 604.0 Q535.3 599.4 539.2 604.0 T546.8 604.0" fill="none" stroke="#ecc94c" stroke-width="1.5" stroke-linecap="round" transform="rotate(169 535.3 604.0)"/>
<path d="M496.2 624.7 Q500.8 619.2 505.3 624.7 T514.5 624.7" fill="none" stroke="#c3962a" stroke-width="1.5" stroke-linecap="round" transform="rotate(65 500.8 624.7)"/>
<path d="M541.6 598.4 Q546.1 593.0 550.5 598.4 T559.5 598.4" fill="none" stroke="#f0d25a" stroke-width="1.5" stroke-linecap="round" transform="rotate(185 546.1 598.4)"/>
<path d="M540.7 605.8 Q546.0 599.4 551.4 605.8 T562.1 605.8" fill="none" stroke="#b4862a" stroke-width="1.5" stroke-linecap="round" transform="rotate(279 546.0 605.8)"/>
<path d="M525.3 592.4 Q529.2 587.7 533.2 592.4 T541.0 592.4" fill="none" stroke="#b4862a" stroke-width="1.5" stroke-linecap="round" transform="rotate(201 529.2 592.4)"/>
<path d="M505.5 610.9 Q510.9 604.5 516.2 610.9 T526.8 610.9" fill="none" stroke="#f8e488" stroke-width="1.5" stroke-linecap="round" transform="rotate(249 510.9 610.9)"/>
<path d="M547.9 604.9 Q551.4 600.7 554.9 604.9 T562.0 604.9" fill="none" stroke="#c3962a" stroke-width="1.5" stroke-linecap="round" transform="rotate(307 551.4 604.9)"/>
<path d="M521.8 601.3 Q526.8 595.3 531.8 601.3 T541.9 601.3" fill="none" stroke="#e8c040" stroke-width="1.5" stroke-linecap="round" transform="rotate(167 526.8 601.3)"/>
<path d="M520.0 618.6 Q524.0 613.7 528.1 618.6 T536.2 618.6" fill="none" stroke="#f8e488" stroke-width="1.5" stroke-linecap="round" transform="rotate(99 524.0 618.6)"/>
<path d="M534.2 625.0 Q538.3 620.1 542.3 625.0 T550.4 625.0" fill="none" stroke="#e8c040" stroke-width="1.5" stroke-linecap="round" transform="rotate(303 538.3 625.0)"/>
<path d="M541.9 609.4 Q546.0 604.5 550.1 609.4 T558.3 609.4" fill="none" stroke="#ecc94c" stroke-width="1.5" stroke-linecap="round" transform="rotate(120 546.0 609.4)"/>
<path d="M520.3 597.8 Q525.8 591.2 531.3 597.8 T542.3 597.8" fill="none" stroke="#c3962a" stroke-width="1.5" stroke-linecap="round" transform="rotate(337 525.8 597.8)"/>
<path d="M506.0 594.2 Q511.0 588.2 516.0 594.2 T526.0 594.2" fill="none" stroke="#f0d25a" stroke-width="1.5" stroke-linecap="round" transform="rotate(150 511.0 594.2)"/>
<path d="M535.8 614.8 Q540.8 608.8 545.8 614.8 T555.8 614.8" fill="none" stroke="#f0d25a" stroke-width="1.5" stroke-linecap="round" transform="rotate(151 540.8 614.8)"/>
<path d="M523.4 626.6 Q527.2 622.0 531.0 626.6 T538.6 626.6" fill="none" stroke="#ecc94c" stroke-width="1.5" stroke-linecap="round" transform="rotate(359 527.2 626.6)"/>
<path d="M498.7 609.1 Q503.6 603.1 508.6 609.1 T518.5 609.1" fill="none" stroke="#b4862a" stroke-width="1.5" stroke-linecap="round" transform="rotate(79 503.6 609.1)"/>
<path d="M498.9 620.5 Q504.8 613.3 510.8 620.5 T522.7 620.5" fill="none" stroke="#ecc94c" stroke-width="1.5" stroke-linecap="round" transform="rotate(353 504.8 620.5)"/>
<path d="M493.3 596.5 Q497.2 591.7 501.2 596.5 T509.1 596.5" fill="none" stroke="#ecc94c" stroke-width="1.5" stroke-linecap="round" transform="rotate(65 497.2 596.5)"/>
<path d="M522.8 608.0 Q526.9 603.2 531.0 608.0 T539.1 608.0" fill="none" stroke="#f3d866" stroke-width="1.5" stroke-linecap="round" transform="rotate(239 526.9 608.0)"/>
<path d="M523.7 600.8 Q529.4 593.9 535.1 600.8 T546.5 600.8" fill="none" stroke="#c3962a" stroke-width="1.5" stroke-linecap="round" transform="rotate(0 529.4 600.8)"/>
<path d="M545.5 626.1 Q551.1 619.4 556.7 626.1 T567.9 626.1" fill="none" stroke="#f0d25a" stroke-width="1.5" stroke-linecap="round" transform="rotate(248 551.1 626.1)"/>
<path d="M511.6 592.5 Q516.4 586.7 521.3 592.5 T531.0 592.5" fill="none" stroke="#f0d25a" stroke-width="1.5" stroke-linecap="round" transform="rotate(34 516.4 592.5)"/>
<path d="M520.9 630.0 Q524.8 625.3 528.6 630.0 T536.4 630.0" fill="none" stroke="#ecc94c" stroke-width="1.5" stroke-linecap="round" transform="rotate(127 524.8 630.0)"/>
<path d="M514.2 624.3 Q519.1 618.4 524.1 624.3 T533.9 624.3" fill="none" stroke="#ecc94c" stroke-width="1.5" stroke-linecap="round" transform="rotate(133 519.1 624.3)"/>
<path d="M499.0 606.7 Q503.4 601.4 507.8 606.7 T516.7 606.7" fill="none" stroke="#ecc94c" stroke-width="1.5" stroke-linecap="round" transform="rotate(72 503.4 606.7)"/>
<path d="M524.8 605.4 Q530.5 598.6 536.2 605.4 T547.6 605.4" fill="none" stroke="#f3d866" stroke-width="1.5" stroke-linecap="round" transform="rotate(0 530.5 605.4)"/>
<path d="M508.9 628.6 Q513.6 623.0 518.2 628.6 T527.4 628.6" fill="none" stroke="#f0d25a" stroke-width="1.5" stroke-linecap="round" transform="rotate(117 513.6 628.6)"/>
<path d="M512.9 608.7 Q516.6 604.3 520.2 608.7 T527.6 608.7" fill="none" stroke="#b4862a" stroke-width="1.5" stroke-linecap="round" transform="rotate(105 516.6 608.7)"/>
<path d="M511.0 630.4 Q516.8 623.5 522.5 630.4 T534.0 630.4" fill="none" stroke="#f8e488" stroke-width="1.5" stroke-linecap="round" transform="rotate(214 516.8 630.4)"/>
<path d="M534.7 603.3 Q538.5 598.8 542.2 603.3 T549.7 603.3" fill="none" stroke="#f8e488" stroke-width="1.5" stroke-linecap="round" transform="rotate(7 538.5 603.3)"/>
<path d="M519.1 602.7 Q523.5 597.4 527.9 602.7 T536.8 602.7" fill="none" stroke="#f0d25a" stroke-width="1.5" stroke-linecap="round" transform="rotate(44 523.5 602.7)"/>
<path d="M548.5 601.1 Q551.6 597.3 554.8 601.1 T561.0 601.1" fill="none" stroke="#c3962a" stroke-width="1.5" stroke-linecap="round" transform="rotate(49 551.6 601.1)"/>
<path d="M491.0 612.8 Q494.8 608.2 498.6 612.8 T506.3 612.8" fill="none" stroke="#e8c040" stroke-width="1.5" stroke-linecap="round" transform="rotate(337 494.8 612.8)"/>
<path d="M490.7 611.1 Q496.2 604.5 501.7 611.1 T512.8 611.1" fill="none" stroke="#f8e488" stroke-width="1.5" stroke-linecap="round" transform="rotate(260 496.2 611.1)"/>
<path d="M507.2 615.9 Q511.6 610.6 516.0 615.9 T524.9 615.9" fill="none" stroke="#f0d25a" stroke-width="1.5" stroke-linecap="round" transform="rotate(232 511.6 615.9)"/>
<path d="M543.8 627.7 Q546.8 624.0 549.9 627.7 T556.0 627.7" fill="none" stroke="#f8e488" stroke-width="1.5" stroke-linecap="round" transform="rotate(45 546.8 627.7)"/>
<path d="M522.1 604.8 Q526.0 600.1 529.9 604.8 T537.7 604.8" fill="none" stroke="#c3962a" stroke-width="1.5" stroke-linecap="round" transform="rotate(191 526.0 604.8)"/>
<path d="M509.5 619.0 Q515.0 612.4 520.4 619.0 T531.3 619.0" fill="none" stroke="#f3d866" stroke-width="1.5" stroke-linecap="round" transform="rotate(48 515.0 619.0)"/>
<path d="M503.4 609.7 Q509.1 602.8 514.9 609.7 T526.4 609.7" fill="none" stroke="#f0d25a" stroke-width="1.5" stroke-linecap="round" transform="rotate(320 509.1 609.7)"/>
<path d="M500.0 608.6 Q505.5 602.1 510.9 608.6 T521.7 608.6" fill="none" stroke="#b4862a" stroke-width="1.5" stroke-linecap="round" transform="rotate(214 505.5 608.6)"/>
<path d="M532.0 616.9 Q536.5 611.6 540.9 616.9 T549.8 616.9" fill="none" stroke="#c3962a" stroke-width="1.5" stroke-linecap="round" transform="rotate(328 536.5 616.9)"/>
<path d="M517.4 619.0 Q522.5 612.8 527.7 619.0 T538.0 619.0" fill="none" stroke="#c3962a" stroke-width="1.5" stroke-linecap="round" transform="rotate(324 522.5 619.0)"/>
<rect x="490" y="588" width="70" height="46" fill="url(#grn)"/>
</g>
</g>
<g transform="rotate(-7.5 502 543)"><rect x="496.4" y="528.4" width="12.4" height="28.6" fill="#2f86d6"/><rect x="496.4" y="528.4" width="12.4" height="4" fill="#2a5cb8"/><rect x="498" y="545" width="4.4" height="4.4" fill="#163a86"/><rect x="502.4" y="549.4" width="4.4" height="4.4" fill="#163a86"/><rect x="502.4" y="540.6" width="4.4" height="4.4" fill="#163a86"/></g>
<g transform="rotate(-47 501 540)"><rect x="488.5" y="536.6" width="25" height="7" rx="1.5" fill="#f6e9ea"/>
<text x="490" y="542.6" font-family="'Liberation Sans',sans-serif" font-weight="bold" font-style="italic" font-size="6.6" fill="#c8202f" textLength="22" lengthAdjust="spacingAndGlyphs">Lustucru</text></g>
<g font-family="'Liberation Sans',sans-serif" font-weight="bold" fill="#a4c53a" stroke="#a4c53a">
<text x="510.5" y="560.6" font-size="21" stroke-width="1.6" textLength="45" lengthAdjust="spacingAndGlyphs" transform="rotate(-7 533 552)">BANZAI</text>
<text x="494.8" y="580.6" font-size="26" stroke-width="1.5" textLength="59.5" lengthAdjust="spacingAndGlyphs">NOODLE</text>
</g>
<ellipse cx="508.6" cy="574.6" rx="8.2" ry="9.6" fill="#a4c53a"/><ellipse cx="508.6" cy="574.8" rx="5" ry="5.6" fill="#22251e"/><path d="M505 572.6 l2.6 1.4 M512.2 572.6 l-2.6 1.4" stroke="#a4c53a" stroke-width="1.1"/><path d="M505.4 576.4 Q508.6 580 511.8 576.4" stroke="#a4c53a" stroke-width="1.1" fill="none"/>
<path d="M500 563 L517 556.6" stroke="#a4c53a" stroke-width="1.3"/>
<path d="M544.5 532 q-.5 7 2 6 q2 -1 1.6 -8 M550.5 531 l.6 4.6 M553.4 530.4 l.6 4.6" stroke="#cfdc6a" stroke-width="1.2" fill="none" stroke-linecap="round"/>
<rect x="518.4" y="584.6" width="35" height="6.6" fill="#8fb02c"/>
<text x="532.5" y="590.4" font-family="'Liberation Sans',sans-serif" font-weight="bold" font-size="7.4" fill="#1d2018" textLength="19.5" lengthAdjust="spacingAndGlyphs">CURRY</text>
<text x="520" y="589.4" font-family="'Liberation Sans',sans-serif" font-size="2.8" fill="#1d2018">SAVEUR</text>
<g font-family="'Liberation Sans',sans-serif" font-weight="bold" fill="#a9c73a"><text x="544.5" y="625" font-size="3.2">PRÊT</text><text x="546" y="633" font-size="8">3</text></g>
</g>

<defs>
<linearGradient id="bagg" x1="0" x2="1"><stop offset="0" stop-color="#c9d1e0"/><stop offset=".14" stop-color="#e1e6f0"/><stop offset=".85" stop-color="#e6eaf3"/><stop offset="1" stop-color="#ccd4e3"/></linearGradient>
<clipPath id="strc"><path d="M595 566 L603 556.5 L645 556.5 L652 566 L652 595 L628 609.5 L623.7 612 L619 609.5 L595 595Z"/></clipPath><clipPath id="pwin"><path d="M599.6 565 L648 565 L648 593 L626 605.5 L621 605.5 L599.6 593Z"/></clipPath>
<linearGradient id="pst" x1="0" y1="0" x2="0" y2="1"><stop offset="0" stop-color="#e8bd6c"/><stop offset="1" stop-color="#d49a45"/></linearGradient>
</defs>
<g id="p5">
<path d="M591.5 510.8 L652 510.8 Q653.6 511 653.2 513 Q651 560 653.2 631 Q653.3 633.4 651 633.4 L592.5 633.4 Q590.2 633.4 590.3 631 Q592.5 560 590.3 513 Q590 511 591.5 510.8Z" fill="url(#bagg)"/>
<path d="M591.5 510.8 L652 510.8 L652.6 515 L590.9 515Z" fill="#f3f5fa"/>
<g font-family="'Liberation Sans',sans-serif" font-weight="bold" font-size="6.6"><text x="594.5" y="532.8" fill="#2e4fa0" textLength="10.5" lengthAdjust="spacingAndGlyphs">100%</text><text x="605.6" y="532.8" fill="#d6382f" textLength="14" lengthAdjust="spacingAndGlyphs">GRAND</text><text x="620" y="532.8" fill="#d6382f" textLength="23.5" lengthAdjust="spacingAndGlyphs">ITALIANO</text></g>
<path d="M646 531 q1.8 -4 2.8 -8" stroke="#d0283a" stroke-width="1.3" fill="none"/><path d="M644.5 532.5 q2 1 4 -.5" stroke="#3c9a4a" stroke-width=".9" fill="none"/>
<rect x="632" y="534.3" width="9" height=".9" fill="#8fc79a"/>
<g clip-path="url(#strc)"><rect x="594" y="555" width="60" height="60" fill="#f1f1f6"/>
<rect x="594.2" y="555" width="1.8" height="60" fill="#d8382f"/>
<rect x="596.9" y="555" width="1.8" height="60" fill="#2f4ea6"/>
<rect x="599.6" y="555" width="1.8" height="60" fill="#d8382f"/>
<rect x="602.3" y="555" width="1.8" height="60" fill="#2f4ea6"/>
<rect x="605.0" y="555" width="1.8" height="60" fill="#d8382f"/>
<rect x="607.7" y="555" width="1.8" height="60" fill="#2f4ea6"/>
<rect x="610.4" y="555" width="1.8" height="60" fill="#d8382f"/>
<rect x="613.1" y="555" width="1.8" height="60" fill="#2f4ea6"/>
<rect x="615.8" y="555" width="1.8" height="60" fill="#d8382f"/>
<rect x="618.5" y="555" width="1.8" height="60" fill="#2f4ea6"/>
<rect x="621.2" y="555" width="1.8" height="60" fill="#d8382f"/>
<rect x="623.9" y="555" width="1.8" height="60" fill="#2f4ea6"/>
<rect x="626.6" y="555" width="1.8" height="60" fill="#d8382f"/>
<rect x="629.3" y="555" width="1.8" height="60" fill="#2f4ea6"/>
<rect x="632.0" y="555" width="1.8" height="60" fill="#d8382f"/>
<rect x="634.7" y="555" width="1.8" height="60" fill="#2f4ea6"/>
<rect x="637.4" y="555" width="1.8" height="60" fill="#d8382f"/>
<rect x="640.1" y="555" width="1.8" height="60" fill="#2f4ea6"/>
<rect x="642.8" y="555" width="1.8" height="60" fill="#d8382f"/>
<rect x="645.5" y="555" width="1.8" height="60" fill="#2f4ea6"/>
<rect x="648.2" y="555" width="1.8" height="60" fill="#d8382f"/>
<rect x="650.9" y="555" width="1.8" height="60" fill="#2f4ea6"/>
<rect x="653.6" y="555" width="1.8" height="60" fill="#d8382f"/>
</g>
<g clip-path="url(#pwin)">
<rect x="599" y="564" width="50" height="44" fill="#d8a24e"/>
<g stroke="#c08a3a" stroke-width=".5">
<path d="M600 568.5 Q606 566 611.5 568.5 L611.5 581 Q606 583.5 600 581Z" fill="#d9a04c"/>
<ellipse cx="605.8" cy="569" rx="5.6" ry="2.6" fill="#b7752c"/>
<path d="M601.5 582.5 Q607 580 612.5 582.5 L612.5 598 Q607 600.8 601.5 598Z" fill="#d9a04c"/>
<ellipse cx="607" cy="583" rx="5.4" ry="2.5" fill="#b7752c"/>
<rect x="612.2" y="563.5" width="16.6" height="15.6" rx="1.6" fill="url(#pst)"/>
<rect x="613" y="578.6" width="14.5" height="28" rx="1.6" fill="url(#pst)"/>
<rect x="628.6" y="564.5" width="17" height="16" rx="1.6" fill="url(#pst)"/>
<rect x="627.8" y="580" width="12.6" height="24" rx="1.6" fill="#dca654"/>
<rect x="640" y="582" width="8.5" height="14" rx="1.4" fill="#cf9440"/>
</g></g>
<path d="M605.8 546 L614 540.2 L635 540.2 L642.8 546 L642.8 559.5 L635 567.4 L614 567.4 L605.8 559.5Z" fill="#d8261f" stroke="#f5f2f0" stroke-width=".8"/>
<text x="611.5" y="559.5" font-family="'Liberation Serif',serif" font-style="italic" font-size="13" fill="#fff" textLength="25" lengthAdjust="spacingAndGlyphs">Russo</text>
<text x="608.3" y="551" font-family="'Liberation Serif',serif" font-weight="bold" font-size="4" fill="#fff">R.</text>
<rect x="618" y="563.3" width="12" height=".9" fill="#f0b8bc"/>
<circle cx="623.7" cy="607.6" r="2.3" fill="#e9edf5" stroke="#3b57a8" stroke-width=".7"/>
<text x="623.6" y="617.4" font-family="'Liberation Serif',serif" font-style="italic" font-size="4.6" fill="#e08a94" text-anchor="middle" textLength="42" lengthAdjust="spacingAndGlyphs">Pasta di semola di grano duro</text>
<text x="623.5" y="621.6" font-family="'Liberation Sans',sans-serif" font-weight="bold" font-size="2.8" fill="#3b57a8" text-anchor="middle">PACCHERI</text>
<circle cx="597.4" cy="624.6" r="2.6" fill="#3d7fd0"/><circle cx="597.4" cy="624.6" r="1.2" fill="#e9edf5"/>
<rect x="601" y="623.3" width="7" height=".8" fill="#7f93c0"/><rect x="601" y="625.3" width="5" height=".8" fill="#7f93c0"/>
<text x="641" y="628" font-family="'Liberation Sans',sans-serif" font-size="3.6" fill="#e08a94">500g</text>
</g>

<defs>
<clipPath id="o6c"><rect x="695.8" y="515.5" width="79.6" height="126.6" rx="1.2"/></clipPath>
<linearGradient id="pk" x1="0" y1="0" x2="1" y2="1"><stop offset="0" stop-color="#f59a2a"/><stop offset=".5" stop-color="#ee841c"/><stop offset="1" stop-color="#e06c12"/></linearGradient>
<linearGradient id="bg6" x1="0" y1="0" x2="0" y2="1"><stop offset="0" stop-color="#e8a04a"/><stop offset=".5" stop-color="#e58a2a"/><stop offset="1" stop-color="#df7c22"/></linearGradient>
<linearGradient id="shd" x1="0" y1="0" x2="0" y2="1"><stop offset="0" stop-color="#b8601e"/><stop offset="1" stop-color="#74340f"/></linearGradient>
</defs>
<g id="p6">
<rect x="692.7" y="509.9" width="85.2" height="136.9" rx="4.5" fill="#2a2422"/>
<g clip-path="url(#o6c)">
<rect x="695" y="515" width="81" height="128" fill="url(#bg6)"/>
<path d="M714 515 L740 515 L740 527 L716 530Z" fill="#3a1e12"/>
<path d="M718 531 Q730 516 752 515.5 L776 515.5 L776 592 Q760 596 744 590 L748 556 Q730 548 718 531Z" fill="url(#pk)"/>
<path d="M702 572 Q706 552 724 546 Q742 544 752 556 Q758 568 748 578 Q730 590 712 584 Q702 580 702 572Z" fill="#c4501a"/>
<path d="M706 570 Q712 556 726 552 Q738 552 742 560 Q730 562 722 570 Q714 578 706 570Z" fill="#a83e14" opacity=".8"/>
<path d="M695 515 L715 515 Q719 522 714 530 Q706 544 695 546Z" fill="#eee6d6"/>
<path d="M697 528 Q706 522 712 518 M697 536 Q706 530 714 524" stroke="#cdbf9e" stroke-width="1.2" fill="none"/>
<path d="M744 590 Q760 586 776 580 L776 606 L744 606Z" fill="url(#shd)"/>
<path d="M713 577 Q722 566 736 568 Q750 564 759 574 Q760 583 748 584 Q740 590 728 585 Q716 586 713 577Z" fill="#f0a850"/>
<path d="M726 574 Q735 568 745 574 Q743 583 735 584 Q728 582 726 574Z" fill="#e27a2a"/>
<path d="M748 572 Q754 570 757 575 Q754 580 749 579Z" fill="#f6c478"/>
<circle cx="709" cy="594" r="8.6" fill="none" stroke="#d9752a" stroke-width="2.6" opacity=".9"/><circle cx="709" cy="594" r="4.4" fill="#ef9838" opacity=".9"/>
<rect x="695" y="606.2" width="37" height="11" fill="#e0691a"/><rect x="739.8" y="606.2" width="37" height="11" fill="#e0691a"/>
<g font-family="'Liberation Sans',sans-serif" font-weight="bold" font-size="2.9" fill="#f8d9b4"><text x="702" y="610.8">Roasted Butternut</text><text x="700" y="614.4">Squash Ravioli Fresh</text><text x="743" y="610.8">Ravioli à la courge</text><text x="745" y="614.4">musquée rôtie</text></g>
<rect x="695" y="617.2" width="37" height="26" fill="#d98c2e"/><rect x="739.8" y="617.2" width="37" height="26" fill="#d98c2e"/>
<g fill="#eec078" stroke="#b46e24" stroke-width=".4" opacity=".9"><rect x="698" y="621" width="9" height="8" rx="1.5"/><rect x="709" y="623" width="9" height="8" rx="1.5"/><rect x="719" y="620.5" width="9" height="8" rx="1.5"/><rect x="743" y="621" width="9" height="8" rx="1.5"/><rect x="754" y="623" width="9" height="8" rx="1.5"/><rect x="765" y="620.5" width="9" height="8" rx="1.5"/><rect x="703" y="632" width="9" height="8" rx="1.5"/><rect x="716" y="633" width="9" height="8" rx="1.5"/><rect x="748" y="632" width="9" height="8" rx="1.5"/><rect x="761" y="633" width="9" height="8" rx="1.5"/></g>
<path d="M728.3 584.5 L729 598 Q729.6 604 733.8 606 L733.4 642 L739 642 L738.6 606 Q742.6 604 743 598 L743.4 584.5 L741.4 584.5 L741 596.5 L739.4 596.5 L739.2 584.5 L737 584.5 L737 596.5 L734.9 596.5 L734.9 584.5 L732.6 584.5 L732.4 596.5 L730.8 596.5 L730.4 584.5Z" fill="#f4f1ec" stroke="#d8cfc0" stroke-width=".4"/>
<path d="M735.6 549 q-2 6 0 11 q2 5 0 10 M739.4 553 q-2 5 0 9 q2 4 0 8" stroke="#f3dcc0" stroke-width=".9" fill="none" opacity=".75"/>
</g>
<ellipse cx="735.6" cy="536.8" rx="19.4" ry="10.2" fill="#15603a" stroke="#7fb08a" stroke-width=".7"/>
<text x="735.6" y="541.4" font-family="'Liberation Serif',serif" font-style="italic" font-size="15" fill="#eef4ee" text-anchor="middle" textLength="32" lengthAdjust="spacingAndGlyphs">Olivieri</text>
<text x="736" y="555.4" font-family="'Liberation Sans',sans-serif" font-size="3.4" fill="#f6d9b8" text-anchor="middle" letter-spacing="1.7">ARTISAN</text>
</g>

</svg>
</body></html>
